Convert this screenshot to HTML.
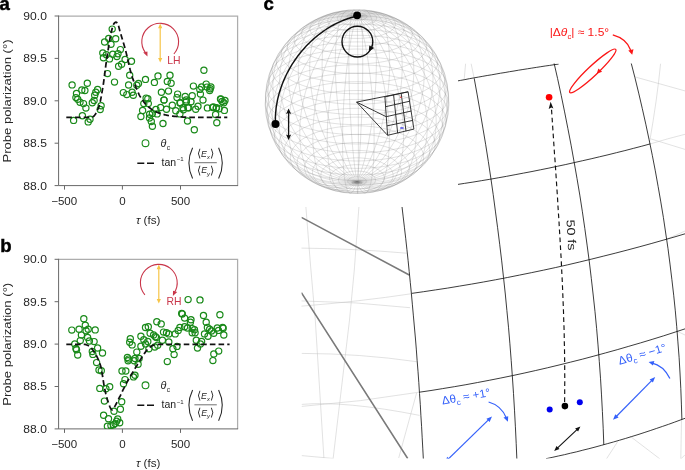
<!DOCTYPE html>
<html lang="en"><head><meta charset="utf-8"><title>Figure</title>
<style>html,body{margin:0;padding:0;background:#fff}body{width:685px;height:470px;overflow:hidden}svg{display:block}</style>
</head><body>
<svg width="685" height="470" viewBox="0 0 685 470" font-family="'Liberation Sans', sans-serif">
<defs>
<clipPath id="inset"><path d="M458,63.5H685V458.5H301.5V207H458Z"/></clipPath>
<clipPath id="pa"><rect x="58.6" y="16" width="179" height="169.6"/></clipPath>
<clipPath id="pb"><rect x="58.6" y="259.3" width="179" height="169.6"/></clipPath>
</defs>
<rect width="685" height="470" fill="#fff"/>
<path d="M58.6,16.0H237.6V185.6" fill="none" stroke="#adadad" stroke-width="1.25"/>
<path d="M58.6,15.5V185.6H238.1" fill="none" stroke="#686868" stroke-width="1"/>
<path d="M54.6,16.0H58.6" stroke="#686868" stroke-width="1"/>
<text transform="translate(46.9,19.9) scale(1.1,1)" font-size="11" text-anchor="end" fill="#262626">90.0</text>
<path d="M54.6,58.4H58.6" stroke="#686868" stroke-width="1"/>
<text transform="translate(46.9,62.4) scale(1.1,1)" font-size="11" text-anchor="end" fill="#262626">89.5</text>
<path d="M54.6,100.8H58.6" stroke="#686868" stroke-width="1"/>
<text transform="translate(46.9,104.8) scale(1.1,1)" font-size="11" text-anchor="end" fill="#262626">89.0</text>
<path d="M54.6,143.2H58.6" stroke="#686868" stroke-width="1"/>
<text transform="translate(46.9,147.1) scale(1.1,1)" font-size="11" text-anchor="end" fill="#262626">88.5</text>
<path d="M54.6,185.6H58.6" stroke="#686868" stroke-width="1"/>
<text transform="translate(46.9,189.5) scale(1.1,1)" font-size="11" text-anchor="end" fill="#262626">88.0</text>
<path d="M64.5,185.6V189.6" stroke="#686868" stroke-width="1"/>
<text transform="translate(64.2,204.6) scale(1.07,1)" font-size="10.8" text-anchor="middle" fill="#262626">−500</text>
<path d="M122.4,185.6V189.6" stroke="#686868" stroke-width="1"/>
<text transform="translate(122.4,204.6) scale(1.07,1)" font-size="10.8" text-anchor="middle" fill="#262626">0</text>
<path d="M180.5,185.6V189.6" stroke="#686868" stroke-width="1"/>
<text transform="translate(180.5,204.6) scale(1.07,1)" font-size="10.8" text-anchor="middle" fill="#262626">500</text>
<text x="148.2" y="223.7" font-size="11.6" text-anchor="middle" fill="#262626"><tspan font-style="italic">τ</tspan> (fs)</text>
<text transform="translate(10.9,101.0) rotate(-90) scale(1.17,1)" font-size="11.2" text-anchor="middle" fill="#262626">Probe polarization (°)</text>
<text x="-0.4" y="9.8" font-size="18.6" font-weight="bold" fill="#000" stroke="#000" stroke-width="0.45">a</text>
<g fill="none" stroke="#1a8a1a" stroke-width="1.2" clip-path="url(#pa)">
<circle cx="112.2" cy="29.1" r="3.1"/>
<circle cx="108.7" cy="38.5" r="3.1"/>
<circle cx="115.7" cy="38.8" r="3.1"/>
<circle cx="104.6" cy="42.0" r="3.1"/>
<circle cx="111.0" cy="44.3" r="3.1"/>
<circle cx="120.4" cy="49.6" r="3.1"/>
<circle cx="102.8" cy="52.9" r="3.1"/>
<circle cx="106.4" cy="54.8" r="3.1"/>
<circle cx="112.8" cy="54.3" r="3.1"/>
<circle cx="118.0" cy="53.7" r="3.1"/>
<circle cx="116.9" cy="56.6" r="3.1"/>
<circle cx="103.4" cy="57.8" r="3.1"/>
<circle cx="109.5" cy="58.9" r="3.1"/>
<circle cx="125.1" cy="59.5" r="3.1"/>
<circle cx="131.5" cy="61.3" r="3.1"/>
<circle cx="121.6" cy="64.2" r="3.1"/>
<circle cx="118.6" cy="66.2" r="3.1"/>
<circle cx="72.1" cy="84.9" r="3.1"/>
<circle cx="87.3" cy="83.3" r="3.1"/>
<circle cx="107.5" cy="73.6" r="3.1"/>
<circle cx="114.5" cy="82.1" r="3.1"/>
<circle cx="129.7" cy="75.3" r="3.1"/>
<circle cx="128.6" cy="85.0" r="3.1"/>
<circle cx="138.5" cy="83.5" r="3.1"/>
<circle cx="136.8" cy="85.3" r="3.1"/>
<circle cx="145.5" cy="79.4" r="3.1"/>
<circle cx="81.8" cy="90.0" r="3.1"/>
<circle cx="84.9" cy="90.5" r="3.1"/>
<circle cx="76.5" cy="93.5" r="3.1"/>
<circle cx="97.6" cy="89.4" r="3.1"/>
<circle cx="95.8" cy="92.3" r="3.1"/>
<circle cx="94.7" cy="95.2" r="3.1"/>
<circle cx="75.9" cy="97.6" r="3.1"/>
<circle cx="77.7" cy="99.3" r="3.1"/>
<circle cx="80.0" cy="102.2" r="3.1"/>
<circle cx="83.5" cy="103.6" r="3.1"/>
<circle cx="92.3" cy="102.8" r="3.1"/>
<circle cx="94.1" cy="100.5" r="3.1"/>
<circle cx="85.9" cy="108.1" r="3.1"/>
<circle cx="101.1" cy="105.7" r="3.1"/>
<circle cx="100.2" cy="109.5" r="3.1"/>
<circle cx="82.4" cy="115.7" r="3.1"/>
<circle cx="73.6" cy="120.4" r="3.1"/>
<circle cx="90.0" cy="119.2" r="3.1"/>
<circle cx="88.2" cy="121.9" r="3.1"/>
<circle cx="123.3" cy="92.6" r="3.1"/>
<circle cx="126.8" cy="94.6" r="3.1"/>
<circle cx="132.1" cy="92.3" r="3.1"/>
<circle cx="133.3" cy="95.2" r="3.1"/>
<circle cx="143.8" cy="103.6" r="3.1"/>
<circle cx="142.6" cy="110.4" r="3.1"/>
<circle cx="140.9" cy="116.5" r="3.1"/>
<circle cx="146.1" cy="98.1" r="3.1"/>
<circle cx="154.4" cy="82.4" r="3.1"/>
<circle cx="158.0" cy="75.9" r="3.1"/>
<circle cx="170.0" cy="75.3" r="3.1"/>
<circle cx="167.3" cy="81.4" r="3.1"/>
<circle cx="171.1" cy="83.3" r="3.1"/>
<circle cx="161.4" cy="92.3" r="3.1"/>
<circle cx="168.5" cy="91.1" r="3.1"/>
<circle cx="164.1" cy="100.1" r="3.1"/>
<circle cx="147.8" cy="98.7" r="3.1"/>
<circle cx="148.3" cy="103.6" r="3.1"/>
<circle cx="160.6" cy="107.5" r="3.1"/>
<circle cx="166.5" cy="109.3" r="3.1"/>
<circle cx="157.1" cy="113.9" r="3.1"/>
<circle cx="152.4" cy="113.4" r="3.1"/>
<circle cx="149.5" cy="118.0" r="3.1"/>
<circle cx="151.3" cy="121.5" r="3.1"/>
<circle cx="152.4" cy="126.2" r="3.1"/>
<circle cx="163.0" cy="123.5" r="3.1"/>
<circle cx="177.6" cy="94.1" r="3.1"/>
<circle cx="177.0" cy="97.6" r="3.1"/>
<circle cx="185.2" cy="96.4" r="3.1"/>
<circle cx="192.2" cy="95.8" r="3.1"/>
<circle cx="193.4" cy="86.1" r="3.1"/>
<circle cx="172.3" cy="105.2" r="3.1"/>
<circle cx="175.8" cy="110.7" r="3.1"/>
<circle cx="180.5" cy="102.8" r="3.1"/>
<circle cx="183.4" cy="109.8" r="3.1"/>
<circle cx="186.4" cy="101.7" r="3.1"/>
<circle cx="191.0" cy="101.7" r="3.1"/>
<circle cx="188.7" cy="107.7" r="3.1"/>
<circle cx="179.9" cy="113.9" r="3.1"/>
<circle cx="187.5" cy="121.0" r="3.1"/>
<circle cx="195.7" cy="109.3" r="3.1"/>
<circle cx="198.0" cy="106.3" r="3.1"/>
<circle cx="200.4" cy="94.1" r="3.1"/>
<circle cx="199.8" cy="89.4" r="3.1"/>
<circle cx="201.6" cy="87.0" r="3.1"/>
<circle cx="203.0" cy="100.1" r="3.1"/>
<circle cx="206.2" cy="84.1" r="3.1"/>
<circle cx="210.9" cy="87.0" r="3.1"/>
<circle cx="209.7" cy="90.5" r="3.1"/>
<circle cx="207.4" cy="107.9" r="3.1"/>
<circle cx="212.7" cy="107.5" r="3.1"/>
<circle cx="216.2" cy="108.1" r="3.1"/>
<circle cx="219.1" cy="108.7" r="3.1"/>
<circle cx="215.6" cy="114.5" r="3.1"/>
<circle cx="216.8" cy="122.7" r="3.1"/>
<circle cx="220.9" cy="99.3" r="3.1"/>
<circle cx="223.8" cy="102.8" r="3.1"/>
<circle cx="225.0" cy="100.5" r="3.1"/>
<circle cx="224.4" cy="110.4" r="3.1"/>
<circle cx="203.9" cy="70.2" r="3.1"/>
<circle cx="194.3" cy="129.7" r="3.1"/>
<circle cx="179.9" cy="103.0" r="3.1"/>
<circle cx="183.0" cy="107.8" r="3.1"/>
<circle cx="186.2" cy="99.9" r="3.1"/>
<circle cx="187.8" cy="107.8" r="3.1"/>
<circle cx="207.0" cy="87.1" r="3.1"/>
<circle cx="210.2" cy="88.7" r="3.1"/>
<circle cx="220.5" cy="99.0" r="3.1"/>
<circle cx="222.1" cy="101.5" r="3.1"/>
<circle cx="213.4" cy="107.0" r="3.1"/>
<circle cx="216.5" cy="107.8" r="3.1"/>
<circle cx="163.9" cy="99.9" r="3.1"/>
<circle cx="149.6" cy="114.2" r="3.1"/>
<circle cx="155.9" cy="109.4" r="3.1"/>
</g>
<path d="M66.3,117.4 L67.1,117.4 L67.9,117.4 L68.7,117.4 L69.5,117.4 L70.3,117.4 L71.2,117.4 L72.0,117.4 L72.8,117.4 L73.6,117.4 L74.4,117.4 L75.2,117.4 L76.0,117.4 L76.8,117.4 L77.6,117.4 L78.4,117.4 L79.2,117.4 L80.1,117.4 L80.9,117.4 L81.7,117.4 L82.5,117.4 L83.3,117.4 L84.1,117.4 L84.9,117.4 L85.7,117.4 L86.5,117.4 L87.3,117.4 L88.1,117.4 L89.0,117.4 L89.8,117.3 L90.6,117.2 L91.4,117.0 L92.2,116.8 L93.0,116.6 L93.8,116.2 L94.6,115.3 L95.4,114.2 L96.2,112.7 L97.0,111.0 L97.9,109.1 L98.7,107.1 L99.5,104.7 L100.3,101.4 L101.1,97.4 L101.9,92.9 L102.7,88.2 L103.5,83.2 L104.3,77.3 L105.1,71.0 L105.9,64.7 L106.8,58.9 L107.6,53.5 L108.4,48.2 L109.2,43.1 L110.0,38.4 L110.8,34.4 L111.6,30.8 L112.4,27.5 L113.2,25.0 L114.0,23.6 L114.8,22.6 L115.7,22.1 L116.5,22.3 L117.3,23.1 L118.1,24.1 L118.9,27.2 L119.7,30.3 L120.5,33.0 L121.3,35.7 L122.1,38.4 L122.9,41.1 L123.7,43.8 L124.6,46.7 L125.4,49.7 L126.2,52.9 L127.0,56.3 L127.8,59.8 L128.6,63.2 L129.4,66.6 L130.2,69.9 L131.0,72.9 L131.8,75.7 L132.6,78.1 L133.5,80.6 L134.3,82.9 L135.1,85.1 L135.9,87.3 L136.7,89.3 L137.5,91.2 L138.3,93.0 L139.1,94.6 L139.9,96.1 L140.7,97.4 L141.5,98.7 L142.4,99.9 L143.2,101.0 L144.0,102.1 L144.8,103.1 L145.6,104.0 L146.4,104.9 L147.2,105.7 L148.0,106.4 L148.8,107.1 L149.6,107.8 L150.4,108.4 L151.2,109.0 L152.1,109.6 L152.9,110.1 L153.7,110.6 L154.5,111.1 L155.3,111.5 L156.1,111.8 L156.9,112.2 L157.7,112.5 L158.5,112.9 L159.3,113.2 L160.1,113.4 L161.0,113.7 L161.8,114.0 L162.6,114.2 L163.4,114.4 L164.2,114.6 L165.0,114.8 L165.8,115.0 L166.6,115.1 L167.4,115.3 L168.2,115.5 L169.0,115.6 L169.9,115.7 L170.7,115.9 L171.5,116.0 L172.3,116.1 L173.1,116.2 L173.9,116.3 L174.7,116.4 L175.5,116.4 L176.3,116.5 L177.1,116.6 L177.9,116.7 L178.8,116.7 L179.6,116.8 L180.4,116.8 L181.2,116.9 L182.0,116.9 L182.8,117.0 L183.6,117.0 L184.4,117.1 L185.2,117.1 L186.0,117.1 L186.8,117.2 L187.7,117.2 L188.5,117.2 L189.3,117.2 L190.1,117.3 L190.9,117.3 L191.7,117.3 L192.5,117.3 L193.3,117.3 L194.1,117.3 L194.9,117.4 L195.7,117.4 L196.6,117.4 L197.4,117.4 L198.2,117.4 L199.0,117.4 L199.8,117.4 L200.6,117.4 L201.4,117.4 L202.2,117.4 L203.0,117.4 L203.8,117.4 L204.6,117.4 L205.5,117.4 L206.3,117.4 L207.1,117.4 L207.9,117.4 L208.7,117.4 L209.5,117.4 L210.3,117.4 L211.1,117.4 L211.9,117.4 L212.7,117.4 L213.5,117.4 L214.4,117.4 L215.2,117.4 L216.0,117.4 L216.8,117.4 L217.6,117.4 L218.4,117.4 L219.2,117.4 L220.0,117.4 L220.8,117.4 L221.6,117.4 L222.4,117.4 L223.3,117.4 L224.1,117.4 L224.9,117.4 L225.7,117.4 L226.5,117.4 L227.3,117.4" fill="none" stroke="#111" stroke-width="1.75" stroke-dasharray="5.6 3.1"/>
<circle cx="145.5" cy="143.2" r="3.4" fill="none" stroke="#1a8a1a" stroke-width="1.1"/>
<text x="160.6" y="146.6" font-size="10.8" fill="#222"><tspan font-style="italic">θ</tspan><tspan font-size="6.6" dy="3.4" dx="0.4">c</tspan></text>
<path d="M137.3,163.2H154" stroke="#111" stroke-width="1.6" stroke-dasharray="7 2.7"/>
<text transform="translate(161.5,166.0) scale(1.05,1)" font-size="10" fill="#222">tan<tspan font-size="5.8" dy="-4.6" dx="0.6">−1</tspan></text>
<path d="M192.6,147.8Q185.2,163.2 192.6,178.6" fill="none" stroke="#262626" stroke-width="1.05"/>
<path d="M218.6,147.8Q226,163.2 218.6,178.6" fill="none" stroke="#262626" stroke-width="1.05"/>
<path d="M194.4,162.7H216.8" stroke="#333" stroke-width="0.7"/>
<text x="205.4" y="156.6" font-size="8.8" text-anchor="middle" fill="#262626"><tspan font-size="10.6" dy="0.6">⟨</tspan><tspan font-style="italic" dy="-0.6">E</tspan><tspan font-size="5.8" dy="2.2" font-style="italic">x</tspan><tspan font-size="10.6" dy="-1.6">⟩</tspan></text>
<text x="205.6" y="173.4" font-size="8.8" text-anchor="middle" fill="#262626"><tspan font-size="10.6" dy="0.6">⟨</tspan><tspan font-style="italic" dy="-0.6">E</tspan><tspan font-size="5.8" dy="2.2" font-style="italic">y</tspan><tspan font-size="10.6" dy="-1.6">⟩</tspan></text>
<path d="M160.2,25.8V59.6" stroke="#f7c548" stroke-width="1.2"/>
<path d="M160.2,23.6l-2.1,4.6h4.2z M160.2,62.6l-2.1,-4.6h4.2z" fill="#f7c548"/>
<path d="M173.9,54.0A18.4,18.4 0 1 0 145.5,52.8" fill="none" stroke="#c9364a" stroke-width="1.1"/>
<path d="M147.5,56.6l-4.3,-4.0 l4.2,-1.2z" fill="#c9364a"/>
<text x="167.2" y="63.5" font-size="10.4" fill="#c9364a">LH</text>
<path d="M58.6,259.3H237.6V428.9" fill="none" stroke="#adadad" stroke-width="1.25"/>
<path d="M58.6,258.8V428.9H238.1" fill="none" stroke="#686868" stroke-width="1"/>
<path d="M54.6,259.3H58.6" stroke="#686868" stroke-width="1"/>
<text transform="translate(46.9,263.2) scale(1.1,1)" font-size="11" text-anchor="end" fill="#262626">90.0</text>
<path d="M54.6,301.7H58.6" stroke="#686868" stroke-width="1"/>
<text transform="translate(46.9,305.6) scale(1.1,1)" font-size="11" text-anchor="end" fill="#262626">89.5</text>
<path d="M54.6,344.1H58.6" stroke="#686868" stroke-width="1"/>
<text transform="translate(46.9,348.1) scale(1.1,1)" font-size="11" text-anchor="end" fill="#262626">89.0</text>
<path d="M54.6,386.5H58.6" stroke="#686868" stroke-width="1"/>
<text transform="translate(46.9,390.4) scale(1.1,1)" font-size="11" text-anchor="end" fill="#262626">88.5</text>
<path d="M54.6,428.9H58.6" stroke="#686868" stroke-width="1"/>
<text transform="translate(46.9,432.8) scale(1.1,1)" font-size="11" text-anchor="end" fill="#262626">88.0</text>
<path d="M64.5,428.9V432.9" stroke="#686868" stroke-width="1"/>
<text transform="translate(64.2,447.9) scale(1.07,1)" font-size="10.8" text-anchor="middle" fill="#262626">−500</text>
<path d="M122.4,428.9V432.9" stroke="#686868" stroke-width="1"/>
<text transform="translate(122.4,447.9) scale(1.07,1)" font-size="10.8" text-anchor="middle" fill="#262626">0</text>
<path d="M180.5,428.9V432.9" stroke="#686868" stroke-width="1"/>
<text transform="translate(180.5,447.9) scale(1.07,1)" font-size="10.8" text-anchor="middle" fill="#262626">500</text>
<text x="148.2" y="467.0" font-size="11.6" text-anchor="middle" fill="#262626"><tspan font-style="italic">τ</tspan> (fs)</text>
<text transform="translate(10.9,344.3) rotate(-90) scale(1.17,1)" font-size="11.2" text-anchor="middle" fill="#262626">Probe polarization (°)</text>
<text x="0.2" y="252.3" font-size="18.6" font-weight="bold" fill="#000" stroke="#000" stroke-width="0.45">b</text>
<g fill="none" stroke="#1a8a1a" stroke-width="1.2" clip-path="url(#pb)">
<circle cx="83.8" cy="318.8" r="3.1"/>
<circle cx="71.8" cy="330.1" r="3.1"/>
<circle cx="79.1" cy="329.3" r="3.1"/>
<circle cx="85.3" cy="325.2" r="3.1"/>
<circle cx="88.2" cy="329.3" r="3.1"/>
<circle cx="86.1" cy="330.8" r="3.1"/>
<circle cx="95.2" cy="329.9" r="3.1"/>
<circle cx="81.4" cy="335.1" r="3.1"/>
<circle cx="87.6" cy="337.5" r="3.1"/>
<circle cx="80.3" cy="340.6" r="3.1"/>
<circle cx="89.4" cy="341.0" r="3.1"/>
<circle cx="94.1" cy="341.6" r="3.1"/>
<circle cx="74.8" cy="343.9" r="3.1"/>
<circle cx="75.9" cy="348.4" r="3.1"/>
<circle cx="76.5" cy="349.8" r="3.1"/>
<circle cx="77.7" cy="355.0" r="3.1"/>
<circle cx="97.6" cy="348.0" r="3.1"/>
<circle cx="92.3" cy="351.5" r="3.1"/>
<circle cx="92.9" cy="354.4" r="3.1"/>
<circle cx="102.5" cy="353.0" r="3.1"/>
<circle cx="96.6" cy="362.6" r="3.1"/>
<circle cx="130.3" cy="338.7" r="3.1"/>
<circle cx="129.7" cy="342.2" r="3.1"/>
<circle cx="132.1" cy="344.9" r="3.1"/>
<circle cx="140.9" cy="336.3" r="3.1"/>
<circle cx="143.8" cy="339.8" r="3.1"/>
<circle cx="140.9" cy="346.3" r="3.1"/>
<circle cx="145.5" cy="343.9" r="3.1"/>
<circle cx="136.8" cy="352.1" r="3.1"/>
<circle cx="127.4" cy="357.4" r="3.1"/>
<circle cx="128.6" cy="359.1" r="3.1"/>
<circle cx="135.0" cy="358.5" r="3.1"/>
<circle cx="139.1" cy="358.5" r="3.1"/>
<circle cx="145.5" cy="327.5" r="3.1"/>
<circle cx="99.0" cy="370.0" r="3.1"/>
<circle cx="101.3" cy="370.7" r="3.1"/>
<circle cx="99.8" cy="388.4" r="3.1"/>
<circle cx="105.9" cy="388.8" r="3.1"/>
<circle cx="109.7" cy="386.8" r="3.1"/>
<circle cx="104.4" cy="401.1" r="3.1"/>
<circle cx="122.0" cy="371.0" r="3.1"/>
<circle cx="125.8" cy="371.0" r="3.1"/>
<circle cx="125.0" cy="379.6" r="3.1"/>
<circle cx="123.5" cy="383.8" r="3.1"/>
<circle cx="133.5" cy="376.9" r="3.1"/>
<circle cx="135.0" cy="375.3" r="3.1"/>
<circle cx="138.1" cy="364.3" r="3.1"/>
<circle cx="128.1" cy="360.8" r="3.1"/>
<circle cx="134.2" cy="360.8" r="3.1"/>
<circle cx="121.7" cy="401.7" r="3.1"/>
<circle cx="120.4" cy="409.3" r="3.1"/>
<circle cx="114.0" cy="411.3" r="3.1"/>
<circle cx="103.6" cy="415.2" r="3.1"/>
<circle cx="108.5" cy="418.7" r="3.1"/>
<circle cx="117.7" cy="419.0" r="3.1"/>
<circle cx="116.6" cy="421.3" r="3.1"/>
<circle cx="119.7" cy="422.8" r="3.1"/>
<circle cx="107.4" cy="426.2" r="3.1"/>
<circle cx="110.9" cy="425.6" r="3.1"/>
<circle cx="113.5" cy="424.7" r="3.1"/>
<circle cx="115.1" cy="423.6" r="3.1"/>
<circle cx="188.1" cy="299.6" r="3.1"/>
<circle cx="200.0" cy="299.9" r="3.1"/>
<circle cx="181.7" cy="313.4" r="3.1"/>
<circle cx="182.3" cy="314.0" r="3.1"/>
<circle cx="184.6" cy="318.1" r="3.1"/>
<circle cx="191.0" cy="319.8" r="3.1"/>
<circle cx="190.4" cy="322.2" r="3.1"/>
<circle cx="203.5" cy="315.5" r="3.1"/>
<circle cx="219.9" cy="314.8" r="3.1"/>
<circle cx="206.2" cy="322.2" r="3.1"/>
<circle cx="156.8" cy="321.8" r="3.1"/>
<circle cx="161.2" cy="323.9" r="3.1"/>
<circle cx="148.3" cy="326.8" r="3.1"/>
<circle cx="179.9" cy="327.4" r="3.1"/>
<circle cx="184.6" cy="326.8" r="3.1"/>
<circle cx="187.5" cy="328.0" r="3.1"/>
<circle cx="178.2" cy="330.4" r="3.1"/>
<circle cx="192.2" cy="328.6" r="3.1"/>
<circle cx="194.5" cy="329.8" r="3.1"/>
<circle cx="195.1" cy="332.7" r="3.1"/>
<circle cx="192.2" cy="332.7" r="3.1"/>
<circle cx="163.5" cy="332.1" r="3.1"/>
<circle cx="166.5" cy="332.7" r="3.1"/>
<circle cx="168.8" cy="333.9" r="3.1"/>
<circle cx="175.2" cy="333.9" r="3.1"/>
<circle cx="150.1" cy="333.3" r="3.1"/>
<circle cx="153.6" cy="335.0" r="3.1"/>
<circle cx="155.4" cy="336.8" r="3.1"/>
<circle cx="147.8" cy="341.5" r="3.1"/>
<circle cx="162.4" cy="340.3" r="3.1"/>
<circle cx="168.8" cy="342.0" r="3.1"/>
<circle cx="196.3" cy="340.3" r="3.1"/>
<circle cx="201.6" cy="341.5" r="3.1"/>
<circle cx="204.5" cy="333.9" r="3.1"/>
<circle cx="207.4" cy="327.4" r="3.1"/>
<circle cx="209.7" cy="329.2" r="3.1"/>
<circle cx="211.5" cy="330.9" r="3.1"/>
<circle cx="208.0" cy="336.2" r="3.1"/>
<circle cx="213.8" cy="333.3" r="3.1"/>
<circle cx="217.3" cy="328.0" r="3.1"/>
<circle cx="218.5" cy="330.4" r="3.1"/>
<circle cx="222.6" cy="327.4" r="3.1"/>
<circle cx="223.8" cy="335.0" r="3.1"/>
<circle cx="223.2" cy="328.2" r="3.1"/>
<circle cx="167.3" cy="361.6" r="3.1"/>
<circle cx="174.1" cy="354.6" r="3.1"/>
<circle cx="172.9" cy="348.7" r="3.1"/>
<circle cx="177.0" cy="346.4" r="3.1"/>
<circle cx="197.5" cy="348.1" r="3.1"/>
<circle cx="200.4" cy="344.0" r="3.1"/>
<circle cx="212.9" cy="360.6" r="3.1"/>
<circle cx="213.8" cy="354.0" r="3.1"/>
<circle cx="218.7" cy="351.1" r="3.1"/>
<circle cx="148.9" cy="348.7" r="3.1"/>
<circle cx="154.8" cy="347.0" r="3.1"/>
<circle cx="157.7" cy="345.2" r="3.1"/>
<circle cx="156.5" cy="337.6" r="3.1"/>
</g>
<path d="M66.3,344.3 L67.1,344.3 L67.9,344.3 L68.8,344.3 L69.6,344.3 L70.4,344.3 L71.2,344.3 L72.0,344.3 L72.9,344.3 L73.7,344.3 L74.5,344.3 L75.3,344.3 L76.1,344.3 L77.0,344.3 L77.8,344.3 L78.6,344.3 L79.4,344.3 L80.3,344.3 L81.1,344.3 L81.9,344.3 L82.7,344.3 L83.5,344.3 L84.4,344.3 L85.2,344.4 L86.0,344.7 L86.8,345.0 L87.6,345.3 L88.5,345.7 L89.3,346.3 L90.1,347.0 L90.9,347.8 L91.7,348.7 L92.6,349.7 L93.4,350.7 L94.2,352.0 L95.0,353.3 L95.8,354.7 L96.7,356.2 L97.5,357.8 L98.3,359.6 L99.1,361.5 L99.9,363.8 L100.8,366.4 L101.6,370.3 L102.4,375.0 L103.2,380.2 L104.0,385.3 L104.9,389.6 L105.7,393.2 L106.5,396.4 L107.3,399.3 L108.2,402.0 L109.0,404.4 L109.8,406.6 L110.6,408.2 L111.4,409.4 L112.3,409.7 L113.1,409.0 L113.9,407.9 L114.7,406.6 L115.5,405.1 L116.4,403.5 L117.2,401.8 L118.0,400.3 L118.8,398.6 L119.6,397.0 L120.5,395.3 L121.3,393.6 L122.1,391.9 L122.9,390.2 L123.7,388.6 L124.6,386.9 L125.4,385.3 L126.2,383.7 L127.0,382.2 L127.8,380.7 L128.7,379.3 L129.5,377.8 L130.3,376.4 L131.1,375.0 L131.9,373.6 L132.8,372.2 L133.6,370.9 L134.4,369.5 L135.2,368.1 L136.1,366.8 L136.9,365.5 L137.7,364.1 L138.5,362.8 L139.3,361.4 L140.2,360.0 L141.0,358.7 L141.8,357.3 L142.6,356.0 L143.4,354.8 L144.3,353.6 L145.1,352.5 L145.9,351.4 L146.7,350.4 L147.5,349.4 L148.4,348.6 L149.2,347.9 L150.0,347.2 L150.8,346.6 L151.6,346.0 L152.5,345.6 L153.3,345.2 L154.1,345.0 L154.9,344.8 L155.7,344.7 L156.6,344.6 L157.4,344.5 L158.2,344.4 L159.0,344.3 L159.8,344.3 L160.7,344.3 L161.5,344.3 L162.3,344.3 L163.1,344.3 L164.0,344.3 L164.8,344.3 L165.6,344.3 L166.4,344.3 L167.2,344.3 L168.1,344.3 L168.9,344.3 L169.7,344.3 L170.5,344.3 L171.3,344.3 L172.2,344.3 L173.0,344.3 L173.8,344.3 L174.6,344.3 L175.4,344.3 L176.3,344.3 L177.1,344.3 L177.9,344.3 L178.7,344.3 L179.5,344.3 L180.4,344.3 L181.2,344.3 L182.0,344.3 L182.8,344.3 L183.6,344.3 L184.5,344.3 L185.3,344.3 L186.1,344.3 L186.9,344.3 L187.7,344.3 L188.6,344.3 L189.4,344.3 L190.2,344.3 L191.0,344.3 L191.9,344.3 L192.7,344.3 L193.5,344.3 L194.3,344.3 L195.1,344.3 L196.0,344.3 L196.8,344.3 L197.6,344.3 L198.4,344.3 L199.2,344.3 L200.1,344.3 L200.9,344.3 L201.7,344.3 L202.5,344.3 L203.3,344.3 L204.2,344.3 L205.0,344.3 L205.8,344.3 L206.6,344.3 L207.4,344.3 L208.3,344.3 L209.1,344.3 L209.9,344.3 L210.7,344.3 L211.5,344.3 L212.4,344.3 L213.2,344.3 L214.0,344.3 L214.8,344.3 L215.6,344.3 L216.5,344.3 L217.3,344.3 L218.1,344.3 L218.9,344.3 L219.8,344.3 L220.6,344.3 L221.4,344.3 L222.2,344.3 L223.0,344.3 L223.9,344.3 L224.7,344.3 L225.5,344.3 L226.3,344.3 L227.1,344.3 L228.0,344.3 L228.8,344.3 L229.6,344.3" fill="none" stroke="#111" stroke-width="1.75" stroke-dasharray="5.6 3.1"/>
<circle cx="145.5" cy="385.3" r="3.4" fill="none" stroke="#1a8a1a" stroke-width="1.1"/>
<text x="160.6" y="388.7" font-size="10.8" fill="#222"><tspan font-style="italic">θ</tspan><tspan font-size="6.6" dy="3.4" dx="0.4">c</tspan></text>
<path d="M137.3,405.3H154" stroke="#111" stroke-width="1.6" stroke-dasharray="7 2.7"/>
<text transform="translate(161.5,408.1) scale(1.05,1)" font-size="10" fill="#222">tan<tspan font-size="5.8" dy="-4.6" dx="0.6">−1</tspan></text>
<path d="M192.6,389.9Q185.2,405.3 192.6,420.7" fill="none" stroke="#262626" stroke-width="1.05"/>
<path d="M218.6,389.9Q226,405.3 218.6,420.7" fill="none" stroke="#262626" stroke-width="1.05"/>
<path d="M194.4,404.8H216.8" stroke="#333" stroke-width="0.7"/>
<text x="205.4" y="398.7" font-size="8.8" text-anchor="middle" fill="#262626"><tspan font-size="10.6" dy="0.6">⟨</tspan><tspan font-style="italic" dy="-0.6">E</tspan><tspan font-size="5.8" dy="2.2" font-style="italic">x</tspan><tspan font-size="10.6" dy="-1.6">⟩</tspan></text>
<text x="205.6" y="415.5" font-size="8.8" text-anchor="middle" fill="#262626"><tspan font-size="10.6" dy="0.6">⟨</tspan><tspan font-style="italic" dy="-0.6">E</tspan><tspan font-size="5.8" dy="2.2" font-style="italic">y</tspan><tspan font-size="10.6" dy="-1.6">⟩</tspan></text>
<path d="M158.8,266.8V300.6" stroke="#f7c548" stroke-width="1.2"/>
<path d="M158.8,264.6l-2.1,4.6h4.2z M158.8,303.6l-2.1,-4.6h4.2z" fill="#f7c548"/>
<path d="M144.9,294.8A18.4,18.4 0 1 1 174.1,293.0" fill="none" stroke="#c9364a" stroke-width="1.1"/>
<path d="M172.9,295.9l4.3,-4.0 l-4.2,-1.2z" fill="#c9364a"/>
<text x="166.4" y="304.5" font-size="10.4" fill="#c9364a">RH</text>
<path d="M357.0,185.8L357.8,185.8L358.6,185.7L359.4,185.6L360.2,185.5L360.9,185.4L361.7,185.2L362.3,184.9L363.0,184.7L363.6,184.4L364.1,184.1L364.6,183.8L365.1,183.5L365.4,183.1L365.7,182.8L366.0,182.4L366.1,182.0L366.2,181.6L366.3,181.2L366.2,180.8L366.1,180.4L365.9,180.0L365.7,179.6L365.4,179.3L365.0,178.9L364.6,178.6L364.1,178.3L363.5,178.0L362.9,177.7L362.3,177.5L361.6,177.3L360.9,177.1L360.1,177.0L359.4,176.8L358.6,176.8L357.8,176.7L357.0,176.7L356.2,176.7L355.4,176.8L354.6,176.8L353.9,177.0L353.1,177.1L352.4,177.3L351.7,177.5L351.1,177.7L350.5,178.0L349.9,178.3L349.4,178.6L349.0,178.9L348.6,179.3L348.3,179.6L348.1,180.0L347.9,180.4L347.8,180.8L347.7,181.2L347.8,181.6L347.9,182.0L348.0,182.4L348.3,182.8L348.6,183.1L348.9,183.5L349.4,183.8L349.9,184.1L350.4,184.4L351.0,184.7L351.7,184.9L352.3,185.2L353.1,185.4L353.8,185.5L354.6,185.6L355.4,185.7L356.2,185.8Z M357.0,189.1L358.6,189.1L360.2,189.0L361.8,188.8L363.4,188.5L364.9,188.2L366.3,187.9L367.7,187.4L369.0,186.9L370.2,186.4L371.3,185.8L372.2,185.2L373.1,184.5L373.8,183.8L374.4,183.0L374.9,182.3L375.2,181.5L375.4,180.7L375.4,179.9L375.4,179.1L375.1,178.4L374.8,177.6L374.3,176.9L373.6,176.1L372.9,175.4L372.0,174.8L371.0,174.2L369.9,173.6L368.7,173.1L367.5,172.6L366.1,172.2L364.7,171.8L363.2,171.5L361.7,171.3L360.2,171.2L358.6,171.1L357.0,171.0L355.4,171.1L353.8,171.2L352.3,171.3L350.8,171.5L349.3,171.8L347.9,172.2L346.5,172.6L345.3,173.1L344.1,173.6L343.0,174.2L342.0,174.8L341.1,175.4L340.4,176.1L339.7,176.9L339.2,177.6L338.9,178.4L338.6,179.1L338.6,179.9L338.6,180.7L338.8,181.5L339.1,182.3L339.6,183.0L340.2,183.8L340.9,184.5L341.8,185.2L342.7,185.8L343.8,186.4L345.0,186.9L346.3,187.4L347.7,187.9L349.1,188.2L350.6,188.5L352.2,188.8L353.8,189.0L355.4,189.1Z M357.0,191.5L359.4,191.5L361.9,191.3L364.2,191.0L366.6,190.7L368.8,190.2L371.0,189.6L373.0,189.0L374.9,188.3L376.7,187.4L378.3,186.6L379.8,185.6L381.0,184.6L382.1,183.5L383.0,182.4L383.6,181.3L384.1,180.2L384.4,179.0L384.4,177.8L384.3,176.7L383.9,175.5L383.4,174.4L382.6,173.3L381.7,172.2L380.5,171.2L379.2,170.2L377.7,169.3L376.1,168.5L374.4,167.7L372.5,167.0L370.5,166.4L368.4,165.9L366.2,165.5L364.0,165.1L361.7,164.9L359.3,164.7L357.0,164.7L354.7,164.7L352.3,164.9L350.0,165.1L347.8,165.5L345.6,165.9L343.5,166.4L341.5,167.0L339.6,167.7L337.9,168.5L336.3,169.3L334.8,170.2L333.5,171.2L332.3,172.2L331.4,173.3L330.6,174.4L330.1,175.5L329.7,176.7L329.6,177.8L329.6,179.0L329.9,180.2L330.4,181.3L331.0,182.4L331.9,183.5L333.0,184.6L334.2,185.6L335.7,186.6L337.3,187.4L339.1,188.3L341.0,189.0L343.0,189.6L345.2,190.2L347.4,190.7L349.8,191.0L352.1,191.3L354.6,191.5Z M357.0,193.0L360.2,192.9L363.5,192.7L366.6,192.4L369.7,191.9L372.7,191.2L375.5,190.5L378.2,189.6L380.7,188.7L383.1,187.6L385.2,186.4L387.1,185.2L388.8,183.8L390.2,182.4L391.3,181.0L392.2,179.5L392.8,178.0L393.1,176.4L393.2,174.9L392.9,173.4L392.4,171.9L391.7,170.4L390.7,169.0L389.4,167.6L387.9,166.2L386.2,165.0L384.2,163.8L382.1,162.7L379.8,161.7L377.3,160.8L374.7,160.0L371.9,159.4L369.1,158.8L366.1,158.4L363.1,158.1L360.1,157.9L357.0,157.8L353.9,157.9L350.9,158.1L347.9,158.4L344.9,158.8L342.1,159.4L339.3,160.0L336.7,160.8L334.2,161.7L331.9,162.7L329.8,163.8L327.8,165.0L326.1,166.2L324.6,167.6L323.3,169.0L322.3,170.4L321.6,171.9L321.1,173.4L320.8,174.9L320.9,176.4L321.2,178.0L321.8,179.5L322.7,181.0L323.8,182.4L325.2,183.8L326.9,185.2L328.8,186.4L330.9,187.6L333.3,188.7L335.8,189.6L338.5,190.5L341.3,191.2L344.3,191.9L347.4,192.4L350.5,192.7L353.8,192.9Z M357.0,193.5L361.0,193.4L365.0,193.1L368.9,192.7L372.7,192.1L376.4,191.3L379.9,190.4L383.3,189.3L386.4,188.1L389.3,186.8L391.9,185.3L394.2,183.8L396.2,182.1L397.9,180.4L399.3,178.6L400.4,176.8L401.1,175.0L401.5,173.1L401.5,171.2L401.2,169.3L400.6,167.5L399.6,165.7L398.4,163.9L396.8,162.2L394.9,160.6L392.8,159.1L390.4,157.7L387.7,156.3L384.9,155.1L381.8,154.1L378.6,153.1L375.3,152.3L371.8,151.6L368.2,151.1L364.5,150.7L360.8,150.5L357.0,150.4L353.2,150.5L349.5,150.7L345.8,151.1L342.2,151.6L338.7,152.3L335.4,153.1L332.2,154.1L329.1,155.1L326.3,156.3L323.6,157.7L321.2,159.1L319.1,160.6L317.2,162.2L315.6,163.9L314.4,165.7L313.4,167.5L312.8,169.3L312.5,171.2L312.5,173.1L312.9,175.0L313.6,176.8L314.7,178.6L316.1,180.4L317.8,182.1L319.8,183.8L322.1,185.3L324.7,186.8L327.6,188.1L330.7,189.3L334.1,190.4L337.6,191.3L341.3,192.1L345.1,192.7L349.0,193.1L353.0,193.4Z M357.0,192.9L361.8,192.8L366.5,192.5L371.1,192.0L375.6,191.3L380.0,190.4L384.2,189.3L388.1,188.0L391.8,186.6L395.2,185.0L398.2,183.3L401.0,181.5L403.3,179.6L405.3,177.6L407.0,175.5L408.2,173.3L409.0,171.1L409.4,168.9L409.4,166.7L409.1,164.6L408.3,162.4L407.1,160.3L405.6,158.2L403.7,156.3L401.5,154.4L399.0,152.6L396.2,151.0L393.1,149.4L389.7,148.0L386.1,146.8L382.3,145.7L378.4,144.7L374.3,143.9L370.1,143.3L365.8,142.9L361.4,142.6L357.0,142.5L352.6,142.6L348.2,142.9L343.9,143.3L339.7,143.9L335.6,144.7L331.7,145.7L327.9,146.8L324.3,148.0L320.9,149.4L317.8,151.0L315.0,152.6L312.5,154.4L310.3,156.3L308.4,158.2L306.9,160.3L305.7,162.4L304.9,164.6L304.6,166.7L304.6,168.9L305.0,171.1L305.8,173.3L307.0,175.5L308.7,177.6L310.7,179.6L313.0,181.5L315.8,183.3L318.8,185.0L322.2,186.6L325.9,188.0L329.8,189.3L334.0,190.4L338.4,191.3L342.9,192.0L347.5,192.5L352.2,192.8Z M357.0,191.4L362.5,191.3L367.9,190.9L373.2,190.3L378.4,189.5L383.4,188.5L388.1,187.2L392.6,185.8L396.8,184.2L400.7,182.4L404.2,180.4L407.3,178.3L410.0,176.1L412.3,173.8L414.1,171.5L415.5,169.0L416.4,166.5L416.8,164.1L416.8,161.6L416.4,159.1L415.4,156.7L414.1,154.3L412.4,152.0L410.2,149.8L407.7,147.6L404.8,145.6L401.5,143.8L398.0,142.1L394.2,140.5L390.1,139.1L385.8,137.8L381.3,136.8L376.6,135.9L371.8,135.2L366.9,134.7L362.0,134.4L357.0,134.3L352.0,134.4L347.1,134.7L342.2,135.2L337.4,135.9L332.7,136.8L328.2,137.8L323.9,139.1L319.8,140.5L316.0,142.1L312.5,143.8L309.2,145.6L306.3,147.6L303.8,149.8L301.6,152.0L299.9,154.3L298.6,156.7L297.6,159.1L297.2,161.6L297.2,164.1L297.6,166.5L298.5,169.0L299.9,171.5L301.7,173.8L304.0,176.1L306.7,178.3L309.8,180.4L313.3,182.4L317.2,184.2L321.4,185.8L325.9,187.2L330.6,188.5L335.6,189.5L340.8,190.3L346.1,190.9L351.5,191.3Z M357.0,188.8L363.1,188.7L369.2,188.3L375.1,187.6L380.9,186.7L386.5,185.5L391.8,184.2L396.8,182.6L401.5,180.7L405.8,178.7L409.7,176.6L413.2,174.3L416.2,171.8L418.7,169.3L420.7,166.7L422.2,164.0L423.2,161.2L423.6,158.5L423.6,155.7L423.1,153.0L422.0,150.3L420.5,147.7L418.5,145.2L416.1,142.7L413.3,140.4L410.0,138.2L406.4,136.2L402.5,134.3L398.2,132.6L393.7,131.0L388.9,129.7L383.9,128.5L378.7,127.5L373.4,126.8L368.0,126.3L362.5,125.9L357.0,125.8L351.5,125.9L346.0,126.3L340.6,126.8L335.3,127.5L330.1,128.5L325.1,129.7L320.3,131.0L315.8,132.6L311.5,134.3L307.6,136.2L304.0,138.2L300.7,140.4L297.9,142.7L295.5,145.2L293.5,147.7L292.0,150.3L290.9,153.0L290.4,155.7L290.4,158.5L290.8,161.2L291.8,164.0L293.3,166.7L295.3,169.3L297.8,171.8L300.8,174.3L304.3,176.6L308.2,178.7L312.5,180.7L317.2,182.6L322.2,184.2L327.5,185.5L333.1,186.7L338.9,187.6L344.8,188.3L350.9,188.7Z M357.0,185.2L363.7,185.0L370.3,184.6L376.9,183.9L383.2,182.9L389.3,181.6L395.2,180.1L400.7,178.4L405.8,176.4L410.5,174.2L414.7,171.9L418.5,169.4L421.7,166.7L424.5,163.9L426.6,161.1L428.2,158.2L429.3,155.2L429.8,152.2L429.7,149.3L429.1,146.3L427.9,143.4L426.2,140.6L424.0,137.9L421.4,135.3L418.3,132.8L414.7,130.4L410.8,128.2L406.5,126.2L401.8,124.3L396.9,122.7L391.7,121.2L386.3,120.0L380.6,119.0L374.9,118.2L369.0,117.6L363.0,117.2L357.0,117.1L351.0,117.2L345.0,117.6L339.1,118.2L333.4,119.0L327.7,120.0L322.3,121.2L317.1,122.7L312.2,124.3L307.5,126.2L303.2,128.2L299.3,130.4L295.7,132.8L292.6,135.3L290.0,137.9L287.8,140.6L286.1,143.4L284.9,146.3L284.3,149.3L284.2,152.2L284.7,155.2L285.8,158.2L287.4,161.1L289.5,163.9L292.3,166.7L295.5,169.4L299.3,171.9L303.5,174.2L308.2,176.4L313.3,178.4L318.8,180.1L324.7,181.6L330.8,182.9L337.1,183.9L343.7,184.6L350.3,185.0Z M357.0,180.5L364.2,180.4L371.4,179.9L378.4,179.1L385.3,178.1L391.8,176.7L398.1,175.1L404.0,173.3L409.5,171.2L414.6,168.8L419.1,166.3L423.2,163.6L426.6,160.8L429.5,157.9L431.8,154.8L433.5,151.7L434.6,148.6L435.1,145.4L435.0,142.3L434.3,139.1L433.1,136.1L431.2,133.1L428.9,130.2L426.0,127.4L422.6,124.8L418.8,122.3L414.6,120.0L410.0,117.8L405.0,115.9L399.7,114.1L394.1,112.6L388.3,111.3L382.3,110.2L376.1,109.4L369.8,108.8L363.4,108.4L357.0,108.3L350.6,108.4L344.2,108.8L337.9,109.4L331.7,110.2L325.7,111.3L319.9,112.6L314.3,114.1L309.0,115.9L304.0,117.8L299.4,120.0L295.2,122.3L291.4,124.8L288.0,127.4L285.1,130.2L282.8,133.1L280.9,136.1L279.7,139.1L279.0,142.3L278.9,145.4L279.4,148.6L280.5,151.7L282.2,154.8L284.5,157.9L287.4,160.8L290.8,163.6L294.9,166.3L299.4,168.8L304.5,171.2L310.0,173.3L315.9,175.1L322.2,176.7L328.7,178.1L335.6,179.1L342.6,179.9L349.8,180.4Z M357.0,174.9L364.7,174.8L372.3,174.3L379.7,173.5L387.0,172.3L394.0,170.9L400.7,169.2L406.9,167.3L412.7,165.1L418.1,162.6L422.9,160.0L427.2,157.2L430.8,154.2L433.9,151.1L436.3,147.9L438.1,144.7L439.2,141.4L439.7,138.1L439.6,134.8L438.8,131.5L437.4,128.3L435.5,125.2L433.0,122.2L429.9,119.3L426.3,116.5L422.3,113.9L417.8,111.5L412.9,109.3L407.6,107.3L402.0,105.5L396.2,103.9L390.0,102.5L383.7,101.4L377.2,100.5L370.5,99.9L363.8,99.5L357.0,99.4L350.2,99.5L343.5,99.9L336.8,100.5L330.3,101.4L324.0,102.5L317.8,103.9L312.0,105.5L306.4,107.3L301.1,109.3L296.2,111.5L291.7,113.9L287.7,116.5L284.1,119.3L281.0,122.2L278.5,125.2L276.6,128.3L275.2,131.5L274.4,134.8L274.3,138.1L274.8,141.4L275.9,144.7L277.7,147.9L280.1,151.1L283.2,154.2L286.8,157.2L291.1,160.0L295.9,162.6L301.3,165.1L307.1,167.3L313.3,169.2L320.0,170.9L327.0,172.3L334.3,173.5L341.7,174.3L349.3,174.8Z M357.0,168.4L365.0,168.2L373.0,167.7L380.8,166.9L388.4,165.7L395.7,164.2L402.7,162.5L409.3,160.5L415.4,158.2L420.9,155.6L426.0,152.9L430.4,150.0L434.2,146.9L437.4,143.7L439.9,140.5L441.7,137.1L442.9,133.7L443.4,130.3L443.2,126.9L442.4,123.5L441.0,120.2L438.9,117.0L436.3,113.9L433.1,110.9L429.3,108.1L425.1,105.5L420.4,103.0L415.3,100.7L409.8,98.6L403.9,96.7L397.8,95.1L391.4,93.7L384.8,92.6L378.0,91.7L371.1,91.0L364.1,90.6L357.0,90.5L349.9,90.6L342.9,91.0L336.0,91.7L329.2,92.6L322.6,93.7L316.2,95.1L310.1,96.7L304.2,98.6L298.7,100.7L293.6,103.0L288.9,105.5L284.7,108.1L280.9,110.9L277.7,113.9L275.1,117.0L273.0,120.2L271.6,123.5L270.8,126.9L270.6,130.3L271.1,133.7L272.3,137.1L274.1,140.5L276.6,143.7L279.8,146.9L283.6,150.0L288.0,152.9L293.1,155.6L298.6,158.2L304.7,160.5L311.3,162.5L318.3,164.2L325.6,165.7L333.2,166.9L341.0,167.7L349.0,168.2Z M357.0,161.0L365.3,160.8L373.6,160.3L381.6,159.4L389.5,158.3L397.1,156.8L404.3,155.0L411.0,152.9L417.3,150.5L423.1,148.0L428.3,145.2L432.8,142.2L436.8,139.1L440.0,135.8L442.6,132.5L444.5,129.1L445.7,125.6L446.2,122.1L446.0,118.7L445.1,115.3L443.6,111.9L441.5,108.6L438.7,105.5L435.4,102.5L431.5,99.6L427.2,96.9L422.3,94.4L417.1,92.0L411.4,89.9L405.4,88.0L399.0,86.4L392.4,85.0L385.6,83.8L378.6,82.9L371.5,82.2L364.3,81.8L357.0,81.7L349.7,81.8L342.5,82.2L335.4,82.9L328.4,83.8L321.6,85.0L315.0,86.4L308.6,88.0L302.6,89.9L296.9,92.0L291.7,94.4L286.8,96.9L282.5,99.6L278.6,102.5L275.3,105.5L272.5,108.6L270.4,111.9L268.9,115.3L268.0,118.7L267.8,122.1L268.3,125.6L269.5,129.1L271.4,132.5L274.0,135.8L277.2,139.1L281.2,142.2L285.7,145.2L290.9,148.0L296.7,150.5L303.0,152.9L309.7,155.0L316.9,156.8L324.5,158.3L332.4,159.4L340.4,160.3L348.7,160.8Z M357.0,152.8L365.5,152.6L373.9,152.1L382.2,151.3L390.2,150.1L397.9,148.6L405.3,146.8L412.2,144.7L418.6,142.3L424.5,139.7L429.8,136.9L434.4,133.9L438.4,130.8L441.7,127.5L444.4,124.1L446.3,120.7L447.5,117.2L448.0,113.7L447.8,110.2L446.9,106.8L445.3,103.4L443.2,100.1L440.3,97.0L437.0,93.9L433.0,91.0L428.5,88.3L423.6,85.8L418.2,83.5L412.4,81.3L406.3,79.4L399.8,77.8L393.1,76.4L386.2,75.2L379.0,74.3L371.8,73.6L364.4,73.2L357.0,73.1L349.6,73.2L342.2,73.6L335.0,74.3L327.8,75.2L320.9,76.4L314.2,77.8L307.7,79.4L301.6,81.3L295.8,83.5L290.4,85.8L285.5,88.3L281.0,91.0L277.0,93.9L273.7,97.0L270.8,100.1L268.7,103.4L267.1,106.8L266.2,110.2L266.0,113.7L266.5,117.2L267.7,120.7L269.6,124.1L272.3,127.5L275.6,130.8L279.6,133.9L284.2,136.9L289.5,139.7L295.4,142.3L301.8,144.7L308.7,146.8L316.1,148.6L323.8,150.1L331.8,151.3L340.1,152.1L348.5,152.6Z M357.0,144.0L365.6,143.8L374.1,143.3L382.4,142.4L390.5,141.2L398.3,139.7L405.7,137.9L412.7,135.9L419.2,133.5L425.1,130.9L430.4,128.1L435.1,125.2L439.2,122.0L442.5,118.8L445.2,115.4L447.1,112.0L448.3,108.5L448.8,105.1L448.6,101.6L447.7,98.2L446.1,94.8L443.9,91.6L441.1,88.4L437.6,85.4L433.7,82.5L429.2,79.8L424.2,77.3L418.7,75.0L412.9,72.9L406.7,71.0L400.2,69.4L393.4,68.0L386.4,66.8L379.2,65.9L371.9,65.3L364.5,64.9L357.0,64.7L349.5,64.9L342.1,65.3L334.8,65.9L327.6,66.8L320.6,68.0L313.8,69.4L307.3,71.0L301.1,72.9L295.3,75.0L289.8,77.3L284.8,79.8L280.3,82.5L276.4,85.4L272.9,88.4L270.1,91.6L267.9,94.8L266.3,98.2L265.4,101.6L265.2,105.1L265.7,108.5L266.9,112.0L268.8,115.4L271.5,118.8L274.8,122.0L278.9,125.2L283.6,128.1L288.9,130.9L294.8,133.5L301.3,135.9L308.3,137.9L315.7,139.7L323.5,141.2L331.6,142.4L339.9,143.3L348.4,143.8Z M357.0,134.6L365.6,134.4L374.0,133.9L382.4,133.0L390.4,131.9L398.2,130.4L405.6,128.6L412.6,126.6L419.1,124.3L425.0,121.7L430.3,119.0L435.0,116.1L439.0,113.0L442.4,109.8L445.0,106.5L446.9,103.1L448.1,99.7L448.6,96.3L448.4,92.9L447.5,89.6L446.0,86.3L443.7,83.1L440.9,80.0L437.5,77.0L433.5,74.2L429.0,71.5L424.0,69.1L418.6,66.8L412.8,64.7L406.6,62.9L400.1,61.3L393.3,59.9L386.4,58.7L379.2,57.8L371.9,57.2L364.5,56.8L357.0,56.7L349.5,56.8L342.1,57.2L334.8,57.8L327.6,58.7L320.7,59.9L313.9,61.3L307.4,62.9L301.2,64.7L295.4,66.8L290.0,69.1L285.0,71.5L280.5,74.2L276.5,77.0L273.1,80.0L270.3,83.1L268.0,86.3L266.5,89.6L265.6,92.9L265.4,96.3L265.9,99.7L267.1,103.1L269.0,106.5L271.6,109.8L275.0,113.0L279.0,116.1L283.7,119.0L289.0,121.7L294.9,124.3L301.4,126.6L308.4,128.6L315.8,130.4L323.6,131.9L331.6,133.0L340.0,133.9L348.4,134.4Z M357.0,124.7L365.4,124.5L373.8,124.1L382.0,123.2L390.0,122.1L397.6,120.7L405.0,119.0L411.8,117.0L418.2,114.7L424.0,112.3L429.3,109.6L433.9,106.8L437.9,103.8L441.2,100.7L443.8,97.5L445.7,94.2L446.9,90.9L447.4,87.6L447.2,84.3L446.3,81.0L444.8,77.8L442.6,74.7L439.8,71.7L436.5,68.8L432.5,66.1L428.1,63.5L423.2,61.1L417.9,58.9L412.1,56.9L406.0,55.1L399.6,53.5L392.9,52.2L386.0,51.0L378.9,50.2L371.7,49.5L364.4,49.2L357.0,49.0L349.6,49.2L342.3,49.5L335.1,50.2L328.0,51.0L321.1,52.2L314.4,53.5L308.0,55.1L301.9,56.9L296.1,58.9L290.8,61.1L285.9,63.5L281.5,66.1L277.5,68.8L274.2,71.7L271.4,74.7L269.2,77.8L267.7,81.0L266.8,84.3L266.6,87.6L267.1,90.9L268.3,94.2L270.2,97.5L272.8,100.7L276.1,103.8L280.1,106.8L284.7,109.6L290.0,112.3L295.8,114.7L302.2,117.0L309.0,119.0L316.4,120.7L324.0,122.1L332.0,123.2L340.2,124.1L348.6,124.5Z M357.0,114.5L365.2,114.4L373.4,113.9L381.4,113.1L389.1,112.1L396.6,110.7L403.7,109.0L410.4,107.1L416.6,105.0L422.3,102.6L427.4,100.1L432.0,97.4L435.9,94.5L439.1,91.5L441.6,88.4L443.5,85.3L444.7,82.1L445.2,79.0L445.0,75.8L444.2,72.7L442.7,69.6L440.6,66.6L437.9,63.7L434.6,60.9L430.8,58.3L426.4,55.8L421.7,53.5L416.4,51.4L410.8,49.4L404.9,47.7L398.6,46.2L392.1,44.9L385.3,43.8L378.4,43.0L371.3,42.4L364.2,42.0L357.0,41.9L349.8,42.0L342.7,42.4L335.6,43.0L328.7,43.8L321.9,44.9L315.4,46.2L309.1,47.7L303.2,49.4L297.6,51.4L292.3,53.5L287.6,55.8L283.2,58.3L279.4,60.9L276.1,63.7L273.4,66.6L271.3,69.6L269.8,72.7L269.0,75.8L268.8,79.0L269.3,82.1L270.5,85.3L272.4,88.4L274.9,91.5L278.1,94.5L282.0,97.4L286.6,100.1L291.7,102.6L297.4,105.0L303.6,107.1L310.3,109.0L317.4,110.7L324.9,112.1L332.6,113.1L340.6,113.9L348.8,114.4Z M357.0,104.2L364.9,104.0L372.7,103.6L380.4,102.9L387.9,101.8L395.1,100.5L401.9,99.0L408.4,97.2L414.4,95.2L419.8,92.9L424.8,90.5L429.1,88.0L432.9,85.2L436.0,82.4L438.5,79.5L440.3,76.5L441.5,73.5L442.0,70.5L441.8,67.5L441.0,64.5L439.6,61.6L437.6,58.8L435.0,56.0L431.8,53.4L428.2,50.9L424.0,48.5L419.4,46.3L414.4,44.3L409.0,42.5L403.2,40.8L397.2,39.4L390.9,38.1L384.4,37.1L377.7,36.3L370.9,35.7L363.9,35.4L357.0,35.3L350.1,35.4L343.1,35.7L336.3,36.3L329.6,37.1L323.1,38.1L316.8,39.4L310.8,40.8L305.0,42.5L299.6,44.3L294.6,46.3L290.0,48.5L285.8,50.9L282.2,53.4L279.0,56.0L276.4,58.8L274.4,61.6L273.0,64.5L272.2,67.5L272.0,70.5L272.5,73.5L273.7,76.5L275.5,79.5L278.0,82.4L281.1,85.2L284.9,88.0L289.2,90.5L294.2,92.9L299.6,95.2L305.6,97.2L312.1,99.0L318.9,100.5L326.1,101.8L333.6,102.9L341.3,103.6L349.1,104.0Z M357.0,93.8L364.5,93.7L371.9,93.3L379.2,92.6L386.3,91.6L393.1,90.4L399.6,89.0L405.7,87.3L411.4,85.4L416.6,83.3L421.3,81.1L425.5,78.7L429.1,76.2L432.0,73.5L434.4,70.8L436.2,68.0L437.3,65.2L437.8,62.4L437.7,59.6L436.9,56.8L435.6,54.0L433.7,51.4L431.2,48.8L428.3,46.3L424.8,44.0L420.8,41.7L416.5,39.7L411.7,37.8L406.5,36.0L401.1,34.5L395.3,33.1L389.3,32.0L383.1,31.0L376.7,30.2L370.2,29.7L363.6,29.4L357.0,29.3L350.4,29.4L343.8,29.7L337.3,30.2L330.9,31.0L324.7,32.0L318.7,33.1L312.9,34.5L307.5,36.0L302.3,37.8L297.5,39.7L293.2,41.7L289.2,44.0L285.7,46.3L282.8,48.8L280.3,51.4L278.4,54.0L277.1,56.8L276.3,59.6L276.2,62.4L276.7,65.2L277.8,68.0L279.6,70.8L282.0,73.5L284.9,76.2L288.5,78.7L292.7,81.1L297.4,83.3L302.6,85.4L308.3,87.3L314.4,89.0L320.9,90.4L327.7,91.6L334.8,92.6L342.1,93.3L349.5,93.7Z M357.0,83.5L364.0,83.4L370.9,83.0L377.7,82.4L384.3,81.5L390.7,80.4L396.8,79.1L402.5,77.6L407.8,75.8L412.7,73.9L417.1,71.9L421.0,69.7L424.4,67.3L427.2,64.9L429.4,62.4L431.1,59.8L432.2,57.2L432.7,54.6L432.6,52.0L431.9,49.5L430.7,46.9L428.9,44.5L426.7,42.1L423.9,39.8L420.6,37.6L416.9,35.5L412.8,33.6L408.4,31.9L403.5,30.2L398.4,28.8L393.0,27.5L387.4,26.5L381.5,25.6L375.5,24.9L369.4,24.4L363.2,24.1L357.0,24.0L350.8,24.1L344.6,24.4L338.5,24.9L332.5,25.6L326.6,26.5L321.0,27.5L315.6,28.8L310.5,30.2L305.6,31.9L301.2,33.6L297.1,35.5L293.4,37.6L290.1,39.8L287.3,42.1L285.1,44.5L283.3,46.9L282.1,49.5L281.4,52.0L281.3,54.6L281.8,57.2L282.9,59.8L284.6,62.4L286.8,64.9L289.6,67.3L293.0,69.7L296.9,71.9L301.3,73.9L306.2,75.8L311.5,77.6L317.2,79.1L323.3,80.4L329.7,81.5L336.3,82.4L343.1,83.0L350.0,83.4Z M357.0,73.5L363.4,73.4L369.8,73.1L376.0,72.5L382.1,71.7L387.9,70.7L393.5,69.5L398.7,68.1L403.6,66.6L408.1,64.8L412.2,63.0L415.8,61.0L418.9,58.9L421.5,56.7L423.6,54.4L425.2,52.1L426.2,49.8L426.7,47.4L426.6,45.0L426.0,42.7L424.9,40.4L423.3,38.1L421.3,36.0L418.7,33.9L415.7,31.9L412.3,30.0L408.6,28.2L404.5,26.6L400.0,25.2L395.3,23.8L390.3,22.7L385.1,21.7L379.7,20.9L374.1,20.2L368.5,19.8L362.8,19.5L357.0,19.4L351.2,19.5L345.5,19.8L339.9,20.2L334.3,20.9L328.9,21.7L323.7,22.7L318.7,23.8L314.0,25.2L309.5,26.6L305.4,28.2L301.7,30.0L298.3,31.9L295.3,33.9L292.7,36.0L290.7,38.1L289.1,40.4L288.0,42.7L287.4,45.0L287.3,47.4L287.8,49.8L288.8,52.1L290.4,54.4L292.5,56.7L295.1,58.9L298.2,61.0L301.8,63.0L305.9,64.8L310.4,66.6L315.3,68.1L320.5,69.5L326.1,70.7L331.9,71.7L338.0,72.5L344.2,73.1L350.6,73.4Z M357.0,63.9L362.7,63.8L368.4,63.5L374.0,63.0L379.5,62.3L384.8,61.4L389.8,60.3L394.5,59.1L398.9,57.7L403.0,56.2L406.7,54.6L409.9,52.8L412.7,50.9L415.1,49.0L417.0,47.0L418.5,44.9L419.4,42.8L419.9,40.7L419.8,38.6L419.3,36.5L418.4,34.5L417.0,32.5L415.1,30.5L412.8,28.6L410.2,26.9L407.1,25.2L403.7,23.6L400.0,22.2L396.0,20.8L391.7,19.6L387.2,18.6L382.5,17.7L377.6,17.0L372.5,16.4L367.4,16.0L362.2,15.7L357.0,15.7L351.8,15.7L346.6,16.0L341.5,16.4L336.4,17.0L331.5,17.7L326.8,18.6L322.3,19.6L318.0,20.8L314.0,22.2L310.3,23.6L306.9,25.2L303.8,26.9L301.2,28.6L298.9,30.5L297.0,32.5L295.6,34.5L294.7,36.5L294.2,38.6L294.1,40.7L294.6,42.8L295.5,44.9L297.0,47.0L298.9,49.0L301.3,50.9L304.1,52.8L307.3,54.6L311.0,56.2L315.1,57.7L319.5,59.1L324.2,60.3L329.2,61.4L334.5,62.3L340.0,63.0L345.6,63.5L351.3,63.8Z M357.0,54.7L362.0,54.6L367.0,54.4L371.9,53.9L376.7,53.3L381.3,52.6L385.7,51.7L389.9,50.6L393.7,49.4L397.3,48.1L400.6,46.7L403.4,45.2L405.9,43.6L408.0,41.9L409.7,40.1L411.0,38.3L411.9,36.5L412.3,34.7L412.3,32.9L411.9,31.1L411.1,29.3L409.9,27.5L408.3,25.8L406.3,24.2L403.9,22.6L401.3,21.1L398.3,19.8L395.0,18.5L391.5,17.3L387.7,16.3L383.7,15.4L379.5,14.6L375.2,13.9L370.8,13.4L366.2,13.1L361.6,12.9L357.0,12.8L352.4,12.9L347.8,13.1L343.2,13.4L338.8,13.9L334.5,14.6L330.3,15.4L326.3,16.3L322.5,17.3L319.0,18.5L315.7,19.8L312.7,21.1L310.1,22.6L307.7,24.2L305.7,25.8L304.1,27.5L302.9,29.3L302.1,31.1L301.7,32.9L301.7,34.7L302.1,36.5L303.0,38.3L304.3,40.1L306.0,41.9L308.1,43.6L310.6,45.2L313.4,46.7L316.7,48.1L320.3,49.4L324.1,50.6L328.3,51.7L332.7,52.6L337.3,53.3L342.1,53.9L347.0,54.4L352.0,54.6Z M357.0,46.2L361.3,46.1L365.5,45.9L369.6,45.6L373.7,45.1L377.6,44.4L381.3,43.7L384.9,42.8L388.2,41.8L391.2,40.7L394.0,39.5L396.4,38.2L398.6,36.9L400.4,35.5L401.9,34.0L403.0,32.5L403.7,31.0L404.1,29.4L404.2,27.9L403.8,26.3L403.2,24.8L402.1,23.4L400.8,21.9L399.1,20.5L397.1,19.2L394.8,18.0L392.3,16.8L389.5,15.7L386.5,14.7L383.3,13.8L379.9,13.0L376.3,12.4L372.6,11.8L368.8,11.4L364.9,11.1L361.0,10.9L357.0,10.8L353.0,10.9L349.1,11.1L345.2,11.4L341.4,11.8L337.7,12.4L334.1,13.0L330.7,13.8L327.5,14.7L324.5,15.7L321.7,16.8L319.2,18.0L316.9,19.2L314.9,20.5L313.2,21.9L311.9,23.4L310.8,24.8L310.2,26.3L309.8,27.9L309.9,29.4L310.3,31.0L311.0,32.5L312.1,34.0L313.6,35.5L315.4,36.9L317.6,38.2L320.0,39.5L322.8,40.7L325.8,41.8L329.1,42.8L332.7,43.7L336.4,44.4L340.3,45.1L344.4,45.6L348.5,45.9L352.7,46.1Z M357.0,38.4L360.4,38.4L363.9,38.2L367.2,37.9L370.5,37.5L373.7,37.0L376.7,36.4L379.6,35.7L382.3,34.9L384.7,34.0L387.0,33.1L389.0,32.0L390.8,31.0L392.3,29.8L393.5,28.6L394.4,27.4L395.0,26.2L395.4,25.0L395.4,23.7L395.2,22.5L394.6,21.2L393.8,20.0L392.7,18.9L391.4,17.8L389.8,16.7L388.0,15.7L385.9,14.7L383.6,13.8L381.2,13.0L378.5,12.3L375.7,11.7L372.8,11.1L369.8,10.7L366.7,10.3L363.5,10.1L360.3,9.9L357.0,9.8L353.7,9.9L350.5,10.1L347.3,10.3L344.2,10.7L341.2,11.1L338.3,11.7L335.5,12.3L332.8,13.0L330.4,13.8L328.1,14.7L326.0,15.7L324.2,16.7L322.6,17.8L321.3,18.9L320.2,20.0L319.4,21.2L318.8,22.5L318.6,23.7L318.6,25.0L319.0,26.2L319.6,27.4L320.5,28.6L321.7,29.8L323.2,31.0L325.0,32.0L327.0,33.1L329.3,34.0L331.7,34.9L334.4,35.7L337.3,36.4L340.3,37.0L343.5,37.5L346.8,37.9L350.1,38.2L353.6,38.4Z M357.0,31.4L359.6,31.4L362.2,31.3L364.7,31.1L367.2,30.8L369.6,30.4L371.9,29.9L374.1,29.4L376.1,28.8L378.0,28.2L379.7,27.4L381.2,26.7L382.6,25.9L383.7,25.0L384.7,24.1L385.4,23.2L385.9,22.3L386.2,21.4L386.2,20.4L386.1,19.5L385.7,18.5L385.1,17.6L384.3,16.8L383.2,15.9L382.0,15.1L380.6,14.3L379.1,13.6L377.3,12.9L375.5,12.3L373.5,11.7L371.3,11.2L369.1,10.8L366.8,10.5L364.4,10.2L362.0,10.0L359.5,9.9L357.0,9.9L354.5,9.9L352.0,10.0L349.6,10.2L347.2,10.5L344.9,10.8L342.7,11.2L340.5,11.7L338.5,12.3L336.7,12.9L334.9,13.6L333.4,14.3L332.0,15.1L330.8,15.9L329.7,16.8L328.9,17.6L328.3,18.5L327.9,19.5L327.8,20.4L327.8,21.4L328.1,22.3L328.6,23.2L329.3,24.1L330.3,25.0L331.4,25.9L332.8,26.7L334.3,27.4L336.0,28.2L337.9,28.8L339.9,29.4L342.1,29.9L344.4,30.4L346.8,30.8L349.3,31.1L351.8,31.3L354.4,31.4Z M357.0,25.4L358.7,25.3L360.5,25.2L362.2,25.1L363.8,24.9L365.4,24.7L367.0,24.4L368.4,24.0L369.8,23.6L371.1,23.2L372.2,22.7L373.3,22.2L374.2,21.7L375.0,21.1L375.6,20.5L376.1,19.9L376.4,19.3L376.6,18.7L376.7,18.0L376.6,17.4L376.3,16.8L375.9,16.2L375.4,15.6L374.7,15.0L373.9,14.4L373.0,13.9L371.9,13.4L370.8,13.0L369.5,12.5L368.2,12.2L366.7,11.8L365.2,11.6L363.6,11.3L362.0,11.1L360.4,11.0L358.7,10.9L357.0,10.9L355.3,10.9L353.6,11.0L352.0,11.1L350.4,11.3L348.8,11.6L347.3,11.8L345.8,12.2L344.5,12.5L343.2,13.0L342.1,13.4L341.0,13.9L340.1,14.4L339.3,15.0L338.6,15.6L338.1,16.2L337.7,16.8L337.4,17.4L337.3,18.0L337.4,18.7L337.6,19.3L337.9,19.9L338.4,20.5L339.0,21.1L339.8,21.7L340.7,22.2L341.8,22.7L342.9,23.2L344.2,23.6L345.6,24.0L347.0,24.4L348.6,24.7L350.2,24.9L351.8,25.1L353.5,25.2L355.3,25.3Z M357.0,20.2L357.9,20.2L358.7,20.2L359.6,20.1L360.4,20.0L361.2,19.9L362.0,19.7L362.7,19.6L363.4,19.4L364.0,19.2L364.6,18.9L365.1,18.7L365.6,18.4L366.0,18.1L366.3,17.8L366.6,17.5L366.8,17.2L366.9,16.9L366.9,16.6L366.9,16.3L366.7,15.9L366.5,15.6L366.3,15.3L365.9,15.0L365.5,14.8L365.1,14.5L364.5,14.3L364.0,14.0L363.3,13.8L362.6,13.6L361.9,13.5L361.2,13.3L360.4,13.2L359.5,13.1L358.7,13.0L357.9,13.0L357.0,13.0L356.1,13.0L355.3,13.0L354.5,13.1L353.6,13.2L352.8,13.3L352.1,13.5L351.4,13.6L350.7,13.8L350.0,14.0L349.5,14.3L348.9,14.5L348.5,14.8L348.1,15.0L347.7,15.3L347.5,15.6L347.3,15.9L347.1,16.3L347.1,16.6L347.1,16.9L347.2,17.2L347.4,17.5L347.7,17.8L348.0,18.1L348.4,18.4L348.9,18.7L349.4,18.9L350.0,19.2L350.6,19.4L351.3,19.6L352.0,19.7L352.8,19.9L353.6,20.0L354.4,20.1L355.3,20.2L356.1,20.2Z M357.0,181.6L357.1,184.5L357.2,187.0L357.3,189.1L357.3,190.8L357.4,192.1L357.5,193.0L357.6,193.4L357.7,193.4L357.8,192.9L357.8,192.0L357.9,190.6L358.0,188.8L358.0,186.5L358.1,183.7L358.2,180.5L358.2,176.9L358.3,172.8L358.3,168.4L358.3,163.5L358.3,158.3L358.4,152.8L358.4,147.0L358.4,140.9L358.4,134.6L358.4,128.0L358.3,121.3L358.3,114.5L358.3,107.7L358.2,100.7L358.2,93.8L358.1,86.9L358.1,80.2L358.0,73.5L358.0,67.0L357.9,60.8L357.8,54.7L357.7,49.0L357.6,43.5L357.6,38.4L357.5,33.7L357.4,29.3L357.3,25.4L357.2,21.8L357.1,18.7L357.0,16.1 M357.0,181.6L358.1,184.4L359.2,186.9L360.3,189.0L361.3,190.6L362.4,191.9L363.5,192.7L364.5,193.1L365.5,193.0L366.5,192.5L367.4,191.6L368.4,190.1L369.2,188.3L370.0,185.9L370.8,183.1L371.4,179.9L372.0,176.3L372.6,172.2L373.1,167.7L373.4,162.9L373.7,157.7L374.0,152.1L374.1,146.3L374.1,140.2L374.1,133.9L374.0,127.4L373.7,120.7L373.4,113.9L373.0,107.0L372.5,100.1L372.0,93.3L371.3,86.4L370.6,79.7L369.8,73.1L368.9,66.6L368.0,60.4L367.1,54.4L366.0,48.7L365.0,43.2L363.9,38.2L362.8,33.5L361.6,29.2L360.5,25.2L359.3,21.8L358.2,18.7L357.0,16.1 M357.0,181.6L359.0,184.3L361.1,186.6L363.2,188.6L365.2,190.1L367.2,191.2L369.2,191.9L371.2,192.2L373.1,192.0L375.0,191.4L376.8,190.4L378.5,188.8L380.1,186.9L381.6,184.4L383.0,181.6L384.3,178.3L385.4,174.5L386.4,170.4L387.3,165.9L388.0,161.0L388.6,155.8L389.0,150.3L389.3,144.4L389.4,138.4L389.3,132.1L389.0,125.6L388.6,119.0L388.0,112.2L387.2,105.4L386.3,98.6L385.2,91.8L384.0,85.0L382.7,78.4L381.2,71.8L379.6,65.5L377.8,59.3L376.0,53.4L374.1,47.8L372.1,42.5L370.0,37.6L367.9,33.0L365.8,28.7L363.6,24.9L361.4,21.6L359.2,18.6L357.0,16.1 M357.0,181.6L360.0,184.1L362.9,186.2L365.9,188.0L368.9,189.3L371.8,190.2L374.7,190.7L377.5,190.8L380.3,190.5L382.9,189.7L385.5,188.4L387.9,186.7L390.2,184.6L392.4,182.0L394.4,179.1L396.3,175.6L397.9,171.8L399.4,167.6L400.6,163.1L401.7,158.1L402.5,152.9L403.1,147.3L403.5,141.5L403.6,135.5L403.4,129.2L403.1,122.8L402.5,116.2L401.6,109.6L400.5,102.8L399.2,96.1L397.7,89.4L395.9,82.8L394.0,76.3L391.8,69.9L389.5,63.7L387.0,57.7L384.4,52.0L381.6,46.5L378.8,41.4L375.8,36.6L372.8,32.2L369.7,28.1L366.5,24.5L363.3,21.2L360.2,18.4L357.0,16.1 M357.0,181.6L360.8,183.8L364.6,185.7L368.4,187.2L372.2,188.2L375.9,188.9L379.6,189.1L383.2,188.9L386.7,188.3L390.1,187.3L393.4,185.8L396.5,183.9L399.4,181.6L402.2,178.8L404.8,175.7L407.1,172.1L409.2,168.2L411.0,163.9L412.6,159.2L414.0,154.3L415.0,149.0L415.7,143.4L416.2,137.6L416.3,131.6L416.2,125.4L415.7,119.0L414.9,112.5L413.9,106.0L412.5,99.4L410.8,92.8L408.9,86.3L406.6,79.8L404.2,73.5L401.5,67.3L398.5,61.3L395.4,55.5L392.0,50.0L388.5,44.8L384.8,39.8L381.1,35.3L377.2,31.1L373.2,27.2L369.2,23.8L365.1,20.8L361.1,18.2L357.0,16.1 M357.0,181.6L361.5,183.5L366.1,185.0L370.6,186.2L375.1,186.9L379.6,187.2L383.9,187.1L388.2,186.6L392.4,185.7L396.4,184.4L400.2,182.6L403.9,180.5L407.4,177.9L410.7,175.0L413.7,171.6L416.4,167.9L418.9,163.8L421.1,159.4L423.0,154.6L424.5,149.5L425.7,144.2L426.6,138.6L427.1,132.8L427.3,126.8L427.1,120.7L426.6,114.4L425.7,108.1L424.4,101.7L422.8,95.2L420.8,88.8L418.5,82.5L415.9,76.2L413.0,70.1L409.8,64.1L406.3,58.4L402.6,52.8L398.6,47.6L394.5,42.6L390.1,38.0L385.6,33.7L381.0,29.7L376.3,26.2L371.5,23.0L366.7,20.3L361.8,18.0L357.0,16.1 M357.0,181.6L362.2,183.1L367.3,184.3L372.4,185.0L377.5,185.3L382.6,185.3L387.5,184.8L392.3,184.0L397.0,182.7L401.6,181.1L405.9,179.0L410.0,176.5L413.9,173.7L417.6,170.5L421.0,166.9L424.0,163.0L426.8,158.7L429.3,154.2L431.4,149.3L433.1,144.2L434.5,138.8L435.4,133.2L436.0,127.4L436.2,121.4L436.0,115.4L435.4,109.2L434.4,103.0L433.0,96.7L431.1,90.4L428.9,84.2L426.4,78.1L423.5,72.1L420.2,66.2L416.6,60.5L412.7,55.0L408.5,49.8L404.1,44.8L399.4,40.1L394.5,35.8L389.4,31.8L384.2,28.2L378.9,24.9L373.5,22.1L368.0,19.7L362.5,17.7L357.0,16.1 M357.0,181.6L362.6,182.7L368.3,183.4L373.9,183.7L379.4,183.6L384.9,183.2L390.3,182.3L395.5,181.1L400.6,179.4L405.5,177.4L410.2,175.0L414.6,172.2L418.9,169.1L422.8,165.6L426.4,161.8L429.8,157.6L432.7,153.2L435.4,148.5L437.6,143.5L439.5,138.3L440.9,132.8L442.0,127.2L442.6,121.4L442.8,115.5L442.6,109.5L441.9,103.5L440.8,97.4L439.3,91.3L437.4,85.2L435.0,79.2L432.3,73.3L429.1,67.5L425.6,61.9L421.7,56.5L417.5,51.3L413.0,46.4L408.2,41.7L403.1,37.4L397.9,33.4L392.4,29.7L386.7,26.4L380.9,23.5L375.0,21.0L369.0,19.0L363.0,17.3L357.0,16.1 M357.0,181.6L363.0,182.2L368.9,182.5L374.9,182.3L380.7,181.8L386.5,180.9L392.1,179.6L397.6,177.9L403.0,175.9L408.1,173.5L413.0,170.7L417.7,167.6L422.1,164.1L426.2,160.4L430.0,156.3L433.4,151.9L436.6,147.3L439.3,142.4L441.6,137.3L443.6,132.0L445.1,126.5L446.2,120.9L446.8,115.2L447.0,109.3L446.8,103.4L446.1,97.4L445.0,91.5L443.4,85.5L441.4,79.7L438.9,73.9L436.1,68.2L432.8,62.7L429.1,57.4L425.1,52.3L420.7,47.4L416.0,42.8L410.9,38.5L405.6,34.5L400.1,30.8L394.3,27.5L388.4,24.6L382.3,22.1L376.1,19.9L369.7,18.2L363.4,16.9L357.0,16.1 M357.0,181.6L363.2,181.8L369.3,181.5L375.4,180.9L381.4,179.9L387.3,178.5L393.1,176.8L398.7,174.7L404.1,172.2L409.4,169.4L414.4,166.3L419.1,162.8L423.6,159.1L427.7,155.0L431.6,150.7L435.1,146.1L438.2,141.3L441.0,136.3L443.3,131.1L445.3,125.7L446.8,120.1L447.9,114.5L448.6,108.7L448.8,102.9L448.6,97.1L447.9,91.3L446.7,85.4L445.1,79.7L443.1,74.0L440.6,68.4L437.7,63.0L434.4,57.8L430.7,52.7L426.6,47.9L422.2,43.4L417.4,39.1L412.3,35.1L406.9,31.5L401.2,28.2L395.3,25.2L389.2,22.7L383.0,20.5L376.6,18.8L370.1,17.5L363.6,16.6L357.0,16.1 M357.0,181.6L363.2,181.3L369.3,180.5L375.4,179.4L381.4,178.0L387.3,176.1L393.1,174.0L398.6,171.4L404.1,168.6L409.2,165.4L414.2,161.9L418.9,158.1L423.3,154.0L427.4,149.7L431.2,145.1L434.7,140.3L437.8,135.3L440.5,130.1L442.8,124.8L444.7,119.3L446.2,113.7L447.3,108.1L448.0,102.3L448.2,96.6L447.9,90.8L447.3,85.1L446.1,79.4L444.6,73.8L442.6,68.3L440.1,63.0L437.3,57.8L434.0,52.8L430.4,48.1L426.3,43.6L421.9,39.3L417.2,35.4L412.1,31.7L406.8,28.4L401.2,25.5L395.3,22.9L389.2,20.8L383.0,19.0L376.6,17.6L370.2,16.7L363.6,16.2L357.0,16.1 M357.0,181.6L363.0,180.8L369.0,179.6L375.0,178.0L380.8,176.1L386.5,173.8L392.1,171.2L397.5,168.2L402.8,165.0L407.8,161.4L412.6,157.6L417.1,153.4L421.4,149.1L425.3,144.5L429.0,139.7L432.3,134.7L435.2,129.5L437.9,124.2L440.1,118.7L441.9,113.2L443.4,107.5L444.4,101.9L445.0,96.2L445.2,90.4L445.0,84.8L444.4,79.1L443.3,73.6L441.8,68.2L439.9,62.9L437.5,57.7L434.8,52.8L431.7,48.0L428.1,43.6L424.2,39.3L420.0,35.4L415.4,31.7L410.6,28.4L405.4,25.5L400.0,22.9L394.3,20.7L388.4,18.9L382.4,17.5L376.2,16.5L369.8,15.9L363.4,15.8L357.0,16.1 M357.0,181.6L362.7,180.3L368.4,178.7L374.1,176.6L379.6,174.3L385.0,171.5L390.3,168.5L395.4,165.2L400.3,161.5L405.1,157.6L409.6,153.4L413.8,149.0L417.8,144.4L421.5,139.5L424.9,134.5L428.0,129.3L430.8,124.0L433.2,118.5L435.3,113.0L437.0,107.3L438.4,101.7L439.3,96.0L439.9,90.3L440.1,84.6L439.9,79.0L439.3,73.5L438.3,68.1L436.9,62.8L435.1,57.7L432.9,52.7L430.4,48.0L427.4,43.5L424.1,39.3L420.5,35.3L416.5,31.6L412.3,28.3L407.7,25.3L402.8,22.7L397.7,20.4L392.4,18.5L386.8,17.1L381.1,16.0L375.2,15.4L369.2,15.2L363.1,15.4L357.0,16.1 M357.0,181.6L362.3,179.9L367.6,177.8L372.7,175.3L377.8,172.6L382.8,169.4L387.6,166.0L392.3,162.3L396.8,158.3L401.1,154.1L405.2,149.6L409.1,144.9L412.8,140.0L416.1,135.0L419.2,129.7L422.1,124.4L424.6,118.9L426.8,113.3L428.7,107.7L430.2,102.0L431.4,96.3L432.3,90.6L432.8,84.9L433.0,79.3L432.8,73.8L432.3,68.3L431.4,63.0L430.1,57.9L428.5,52.9L426.5,48.1L424.2,43.6L421.5,39.3L418.5,35.3L415.2,31.6L411.6,28.2L407.7,25.1L403.5,22.4L399.1,20.0L394.4,18.1L389.5,16.5L384.4,15.4L379.2,14.6L373.8,14.3L368.3,14.5L362.7,15.1L357.0,16.1 M357.0,181.6L361.7,179.5L366.4,177.0L371.0,174.2L375.5,171.0L379.9,167.6L384.2,163.8L388.4,159.8L392.3,155.5L396.1,151.0L399.8,146.2L403.2,141.3L406.4,136.2L409.4,130.9L412.1,125.5L414.6,120.0L416.8,114.3L418.7,108.7L420.4,103.0L421.7,97.2L422.8,91.5L423.6,85.8L424.0,80.1L424.2,74.5L424.0,69.1L423.5,63.7L422.7,58.5L421.6,53.5L420.2,48.6L418.5,44.0L416.4,39.7L414.1,35.6L411.5,31.7L408.6,28.2L405.4,25.1L401.9,22.2L398.2,19.8L394.3,17.7L390.2,16.0L385.9,14.7L381.4,13.8L376.7,13.4L371.9,13.4L367.0,13.9L362.0,14.8L357.0,16.1 M357.0,181.6L361.0,179.1L365.0,176.3L368.9,173.2L372.7,169.7L376.5,165.9L380.1,161.9L383.6,157.6L387.0,153.0L390.2,148.2L393.3,143.3L396.2,138.1L398.9,132.8L401.4,127.4L403.7,121.8L405.7,116.2L407.6,110.4L409.2,104.7L410.6,98.9L411.8,93.1L412.7,87.4L413.3,81.6L413.7,76.0L413.8,70.5L413.7,65.0L413.3,59.7L412.6,54.6L411.7,49.7L410.5,45.0L409.0,40.5L407.3,36.3L405.3,32.3L403.1,28.7L400.7,25.4L398.0,22.4L395.1,19.8L392.0,17.5L388.7,15.6L385.2,14.2L381.5,13.1L377.7,12.5L373.8,12.3L369.7,12.6L365.5,13.3L361.3,14.5L357.0,16.1 M357.0,181.6L360.2,178.9L363.4,175.7L366.5,172.3L369.6,168.6L372.6,164.6L375.5,160.3L378.3,155.7L380.9,151.0L383.5,146.0L385.9,140.8L388.2,135.5L390.4,130.1L392.4,124.5L394.2,118.8L395.8,113.0L397.3,107.2L398.6,101.4L399.7,95.6L400.6,89.8L401.3,84.0L401.8,78.3L402.1,72.6L402.2,67.1L402.1,61.7L401.8,56.5L401.3,51.5L400.5,46.6L399.6,42.0L398.4,37.6L397.1,33.5L395.5,29.7L393.8,26.2L391.8,23.0L389.7,20.2L387.4,17.7L384.9,15.6L382.3,14.0L379.5,12.7L376.6,11.8L373.6,11.4L370.4,11.5L367.2,11.9L363.8,12.9L360.4,14.3L357.0,16.1 M357.0,181.6L359.3,178.6L361.6,175.3L363.9,171.7L366.1,167.7L368.3,163.5L370.4,159.0L372.4,154.3L374.3,149.4L376.2,144.3L377.9,139.0L379.6,133.5L381.1,128.0L382.5,122.3L383.9,116.5L385.0,110.7L386.1,104.8L387.0,98.9L387.8,93.1L388.5,87.2L389.0,81.4L389.4,75.7L389.6,70.1L389.6,64.6L389.6,59.2L389.3,54.0L389.0,49.0L388.4,44.3L387.7,39.7L386.9,35.4L385.9,31.4L384.8,27.7L383.6,24.3L382.2,21.2L380.6,18.5L379.0,16.2L377.2,14.2L375.3,12.7L373.3,11.6L371.2,10.9L369.0,10.6L366.7,10.8L364.4,11.4L362.0,12.5L359.5,14.1L357.0,16.1 M357.0,181.6L358.4,178.5L359.8,175.0L361.1,171.2L362.4,167.2L363.7,162.8L365.0,158.2L366.1,153.4L367.3,148.4L368.4,143.1L369.4,137.7L370.4,132.2L371.3,126.6L372.2,120.8L373.0,115.0L373.7,109.1L374.3,103.2L374.8,97.3L375.3,91.4L375.7,85.5L376.0,79.7L376.2,74.0L376.3,68.4L376.4,62.9L376.3,57.6L376.2,52.4L376.0,47.4L375.7,42.7L375.3,38.2L374.8,34.0L374.2,30.0L373.5,26.3L372.8,23.0L371.9,20.0L371.0,17.4L370.1,15.1L369.0,13.3L367.9,11.8L366.7,10.8L365.4,10.2L364.1,10.0L362.8,10.3L361.4,11.1L359.9,12.3L358.5,14.0L357.0,16.1 M357.0,181.6L357.4,178.4L357.8,174.9L358.2,171.0L358.6,166.9L359.0,162.5L359.3,157.8L359.7,153.0L360.0,147.9L360.4,142.6L360.7,137.2L360.9,131.6L361.2,125.9L361.5,120.1L361.7,114.3L361.9,108.3L362.1,102.4L362.2,96.5L362.4,90.6L362.5,84.7L362.6,78.9L362.7,73.2L362.7,67.6L362.7,62.1L362.7,56.8L362.6,51.6L362.6,46.7L362.5,42.0L362.4,37.5L362.2,33.3L362.1,29.3L361.9,25.7L361.6,22.4L361.4,19.4L361.1,16.9L360.8,14.6L360.5,12.8L360.2,11.4L359.9,10.4L359.5,9.9L359.1,9.8L358.7,10.1L358.3,10.9L357.9,12.2L357.4,13.9L357.0,16.1 M357.0,181.6L356.4,178.4L355.8,174.9L355.3,171.1L354.7,166.9L354.2,162.5L353.7,157.9L353.2,153.0L352.7,147.9L352.2,142.6L351.8,137.2L351.4,131.6L351.0,126.0L350.7,120.2L350.3,114.3L350.0,108.4L349.8,102.5L349.6,96.6L349.4,90.6L349.2,84.8L349.1,79.0L349.0,73.2L348.9,67.6L348.9,62.2L348.9,56.8L349.0,51.7L349.1,46.7L349.2,42.0L349.4,37.5L349.6,33.3L349.8,29.4L350.1,25.8L350.4,22.5L350.8,19.5L351.1,16.9L351.5,14.7L352.0,12.9L352.5,11.5L353.0,10.5L353.5,9.9L354.0,9.8L354.6,10.1L355.2,10.9L355.8,12.2L356.4,13.9L357.0,16.1 M357.0,181.6L355.4,178.5L353.9,175.1L352.4,171.3L350.9,167.2L349.5,162.9L348.1,158.3L346.7,153.5L345.5,148.5L344.2,143.3L343.1,137.9L342.0,132.4L340.9,126.8L340.0,121.0L339.1,115.2L338.3,109.3L337.6,103.4L337.0,97.5L336.5,91.6L336.1,85.7L335.7,79.9L335.5,74.2L335.3,68.6L335.3,63.1L335.3,57.8L335.5,52.6L335.7,47.7L336.1,42.9L336.5,38.4L337.1,34.2L337.7,30.2L338.5,26.5L339.3,23.2L340.3,20.2L341.3,17.5L342.4,15.3L343.6,13.4L344.8,11.9L346.2,10.9L347.6,10.3L349.0,10.1L350.5,10.4L352.1,11.1L353.7,12.3L355.3,14.0L357.0,16.1 M357.0,181.6L354.5,178.7L352.0,175.4L349.6,171.8L347.3,167.9L345.0,163.7L342.7,159.2L340.6,154.5L338.5,149.6L336.5,144.5L334.6,139.3L332.9,133.8L331.2,128.3L329.7,122.6L328.3,116.9L327.0,111.0L325.9,105.2L324.9,99.3L324.1,93.4L323.4,87.6L322.8,81.8L322.4,76.1L322.2,70.5L322.1,65.0L322.2,59.6L322.4,54.4L322.9,49.4L323.4,44.6L324.1,40.1L325.0,35.7L326.1,31.7L327.3,28.0L328.6,24.6L330.1,21.5L331.8,18.8L333.5,16.4L335.4,14.4L337.5,12.9L339.6,11.7L341.9,11.0L344.2,10.7L346.6,10.9L349.1,11.5L351.7,12.6L354.3,14.1L357.0,16.1 M357.0,181.6L353.6,178.9L350.3,175.8L347.0,172.4L343.8,168.8L340.7,164.8L337.7,160.5L334.8,156.0L332.0,151.3L329.3,146.3L326.7,141.2L324.3,135.9L322.1,130.5L320.0,124.9L318.1,119.3L316.4,113.5L314.8,107.7L313.5,101.9L312.3,96.1L311.4,90.3L310.7,84.5L310.1,78.8L309.8,73.2L309.7,67.6L309.8,62.2L310.1,57.0L310.7,52.0L311.5,47.1L312.5,42.5L313.7,38.1L315.1,33.9L316.7,30.1L318.6,26.6L320.6,23.4L322.8,20.5L325.2,18.0L327.8,15.9L330.6,14.2L333.5,12.9L336.5,12.0L339.7,11.6L343.0,11.6L346.4,12.0L349.9,12.9L353.4,14.3L357.0,16.1 M357.0,181.6L352.8,179.2L348.7,176.4L344.7,173.3L340.7,169.9L336.9,166.2L333.1,162.2L329.5,157.9L326.0,153.4L322.7,148.7L319.5,143.7L316.6,138.6L313.8,133.3L311.2,127.9L308.8,122.4L306.6,116.8L304.7,111.1L303.0,105.3L301.6,99.5L300.4,93.8L299.5,88.0L298.8,82.3L298.4,76.7L298.3,71.1L298.4,65.7L298.9,60.4L299.5,55.3L300.5,50.3L301.7,45.6L303.3,41.1L305.0,36.8L307.1,32.9L309.3,29.2L311.9,25.8L314.6,22.8L317.6,20.2L320.9,17.9L324.3,16.0L327.9,14.5L331.7,13.4L335.6,12.7L339.7,12.5L343.9,12.7L348.2,13.4L352.6,14.5L357.0,16.1 M357.0,181.6L352.2,179.6L347.4,177.1L342.7,174.4L338.1,171.3L333.5,167.9L329.1,164.2L324.9,160.2L320.8,156.0L316.9,151.5L313.2,146.8L309.7,141.9L306.4,136.8L303.4,131.6L300.6,126.2L298.0,120.7L295.8,115.1L293.8,109.4L292.1,103.7L290.7,98.0L289.6,92.3L288.8,86.6L288.3,80.9L288.2,75.3L288.3,69.8L288.8,64.5L289.7,59.3L290.8,54.2L292.3,49.3L294.0,44.7L296.1,40.3L298.5,36.2L301.2,32.3L304.2,28.8L307.5,25.6L311.0,22.7L314.8,20.2L318.8,18.1L323.0,16.3L327.4,15.0L332.0,14.1L336.8,13.6L341.7,13.6L346.7,14.0L351.8,14.8L357.0,16.1 M357.0,181.6L351.6,180.0L346.3,177.9L341.0,175.6L335.8,172.8L330.8,169.8L325.8,166.4L321.1,162.8L316.5,158.9L312.1,154.7L307.9,150.3L304.0,145.6L300.3,140.8L296.8,135.7L293.7,130.5L290.8,125.2L288.2,119.7L286.0,114.2L284.1,108.6L282.5,102.9L281.2,97.2L280.3,91.5L279.8,85.8L279.6,80.2L279.8,74.6L280.4,69.2L281.3,63.9L282.6,58.7L284.2,53.7L286.3,48.9L288.6,44.3L291.3,40.0L294.4,36.0L297.8,32.2L301.4,28.7L305.4,25.6L309.7,22.9L314.2,20.5L319.0,18.5L323.9,16.8L329.1,15.6L334.5,14.9L339.9,14.5L345.6,14.6L351.2,15.1L357.0,16.1 M357.0,181.6L351.2,180.4L345.4,178.8L339.7,176.9L334.1,174.6L328.7,171.9L323.3,169.0L318.2,165.7L313.2,162.1L308.4,158.3L303.8,154.1L299.5,149.8L295.5,145.2L291.7,140.4L288.3,135.4L285.1,130.2L282.3,124.9L279.8,119.5L277.7,113.9L276.0,108.3L274.6,102.7L273.6,97.0L273.0,91.3L272.9,85.6L273.1,80.0L273.7,74.5L274.7,69.0L276.1,63.7L277.9,58.6L280.1,53.6L282.7,48.8L285.7,44.3L289.0,40.0L292.7,36.0L296.8,32.3L301.1,28.9L305.7,25.8L310.7,23.1L315.8,20.8L321.2,18.9L326.9,17.4L332.7,16.3L338.6,15.6L344.7,15.3L350.8,15.5L357.0,16.1 M357.0,181.6L350.9,180.9L344.9,179.7L338.9,178.3L333.0,176.4L327.3,174.2L321.7,171.7L316.2,168.8L310.9,165.6L305.9,162.1L301.0,158.3L296.5,154.2L292.2,149.9L288.2,145.4L284.5,140.6L281.2,135.6L278.2,130.5L275.5,125.2L273.3,119.8L271.4,114.2L270.0,108.6L268.9,102.9L268.3,97.2L268.1,91.5L268.3,85.8L269.0,80.2L270.1,74.6L271.6,69.1L273.5,63.8L275.9,58.6L278.6,53.6L281.8,48.9L285.4,44.3L289.3,40.0L293.5,36.1L298.1,32.4L303.1,29.0L308.3,26.0L313.7,23.3L319.5,21.1L325.4,19.2L331.5,17.7L337.7,16.7L344.1,16.1L350.5,15.9L357.0,16.1 M357.0,181.6L350.8,181.4L344.7,180.7L338.6,179.7L332.6,178.3L326.6,176.6L320.9,174.4L315.3,172.0L309.8,169.2L304.6,166.1L299.7,162.6L294.9,158.9L290.5,154.9L286.4,150.6L282.6,146.1L279.1,141.3L276.0,136.3L273.3,131.2L270.9,125.9L269.0,120.4L267.5,114.8L266.4,109.2L265.8,103.4L265.5,97.7L265.8,91.9L266.5,86.2L267.6,80.5L269.2,74.8L271.2,69.3L273.6,63.9L276.5,58.7L279.8,53.7L283.4,48.9L287.5,44.3L291.9,40.0L296.7,36.0L301.8,32.3L307.1,29.0L312.8,26.0L318.6,23.3L324.7,21.1L330.9,19.3L337.3,17.8L343.8,16.8L350.4,16.2L357.0,16.1 M357.0,181.6L350.9,181.8L344.8,181.7L338.7,181.1L332.7,180.2L326.8,178.9L321.0,177.3L315.4,175.3L310.0,172.9L304.8,170.1L299.8,167.1L295.0,163.7L290.6,160.0L286.4,156.0L282.6,151.7L279.1,147.1L275.9,142.4L273.2,137.4L270.8,132.1L268.8,126.8L267.3,121.2L266.2,115.6L265.5,109.8L265.3,104.0L265.6,98.2L266.3,92.3L267.4,86.5L269.0,80.7L271.0,75.0L273.5,69.4L276.4,63.9L279.7,58.6L283.4,53.5L287.5,48.7L292.0,44.1L296.8,39.7L301.9,35.7L307.3,32.0L312.9,28.6L318.8,25.6L324.9,23.0L331.1,20.8L337.5,19.0L343.9,17.6L350.4,16.6L357.0,16.1 M357.0,181.6L351.1,182.3L345.2,182.6L339.3,182.6L333.5,182.1L327.7,181.3L322.1,180.1L316.7,178.5L311.4,176.5L306.3,174.2L301.4,171.5L296.7,168.4L292.3,165.0L288.3,161.3L284.5,157.3L281.0,152.9L278.0,148.4L275.2,143.5L272.9,138.4L271.0,133.1L269.5,127.7L268.4,122.0L267.7,116.3L267.5,110.4L267.8,104.5L268.4,98.5L269.6,92.5L271.1,86.5L273.1,80.6L275.6,74.8L278.4,69.1L281.7,63.6L285.3,58.2L289.4,53.0L293.7,48.1L298.4,43.4L303.4,39.1L308.7,35.0L314.2,31.3L319.9,27.9L325.8,24.9L331.9,22.3L338.1,20.1L344.4,18.4L350.7,17.0L357.0,16.1 M357.0,181.6L351.4,182.8L345.9,183.6L340.3,183.9L334.9,183.9L329.5,183.5L324.2,182.8L319.0,181.6L314.0,180.0L309.1,178.0L304.5,175.7L300.0,173.0L295.9,169.9L292.0,166.5L288.4,162.7L285.1,158.6L282.1,154.2L279.5,149.5L277.3,144.5L275.5,139.3L274.0,133.9L273.0,128.3L272.4,122.5L272.2,116.6L272.4,110.6L273.0,104.5L274.1,98.4L275.6,92.2L277.5,86.1L279.9,80.1L282.6,74.1L285.7,68.3L289.2,62.7L293.0,57.2L297.2,52.0L301.7,47.0L306.4,42.3L311.4,37.9L316.6,33.8L322.1,30.1L327.7,26.7L333.4,23.8L339.2,21.2L345.1,19.1L351.1,17.4L357.0,16.1 M357.0,181.6L351.9,183.2L346.9,184.4L341.8,185.2L336.8,185.6L331.9,185.6L327.1,185.3L322.3,184.5L317.7,183.3L313.3,181.7L309.0,179.7L304.9,177.3L301.1,174.5L297.5,171.3L294.2,167.8L291.1,163.9L288.4,159.6L286.0,155.1L284.0,150.2L282.2,145.1L280.9,139.8L279.9,134.2L279.4,128.4L279.2,122.4L279.4,116.3L280.0,110.1L281.0,103.9L282.4,97.6L284.2,91.3L286.3,85.1L288.8,78.9L291.7,72.8L294.9,66.9L298.5,61.2L302.3,55.6L306.4,50.3L310.8,45.3L315.4,40.6L320.2,36.2L325.2,32.1L330.3,28.4L335.5,25.1L340.8,22.2L346.2,19.8L351.6,17.7L357.0,16.1 M357.0,181.6L352.6,183.6L348.2,185.2L343.7,186.3L339.4,187.1L335.0,187.5L330.8,187.5L326.6,187.1L322.5,186.2L318.6,184.9L314.9,183.2L311.3,181.1L307.9,178.6L304.7,175.7L301.8,172.4L299.1,168.7L296.7,164.6L294.5,160.2L292.7,155.5L291.2,150.4L290.0,145.1L289.1,139.5L288.6,133.7L288.4,127.7L288.6,121.6L289.2,115.3L290.1,108.9L291.3,102.5L292.9,96.0L294.8,89.6L297.0,83.2L299.6,76.9L302.4,70.7L305.6,64.7L309.0,58.9L312.6,53.3L316.4,48.0L320.5,43.0L324.7,38.3L329.1,34.0L333.6,30.0L338.2,26.4L342.8,23.2L347.6,20.4L352.3,18.0L357.0,16.1 M357.0,181.6L353.3,183.9L349.7,185.8L346.0,187.3L342.4,188.4L338.7,189.1L335.2,189.4L331.7,189.3L328.3,188.7L325.1,187.7L321.9,186.3L318.9,184.5L316.1,182.2L313.4,179.5L310.9,176.3L308.7,172.8L306.7,168.9L304.9,164.6L303.3,160.0L302.1,155.0L301.0,149.7L300.3,144.1L299.9,138.3L299.8,132.3L299.9,126.1L300.4,119.7L301.1,113.2L302.2,106.7L303.5,100.1L305.1,93.5L307.0,86.9L309.1,80.4L311.5,74.0L314.1,67.8L317.0,61.8L320.0,55.9L323.2,50.4L326.6,45.1L330.2,40.1L333.8,35.5L337.6,31.3L341.4,27.4L345.3,23.9L349.2,20.9L353.1,18.3L357.0,16.1 M357.0,181.6L354.2,184.2L351.4,186.3L348.6,188.1L345.7,189.5L343.0,190.4L340.2,191.0L337.6,191.1L334.9,190.8L332.4,190.0L330.0,188.8L327.7,187.1L325.5,185.1L323.4,182.5L321.5,179.5L319.7,176.2L318.2,172.4L316.8,168.2L315.6,163.6L314.6,158.7L313.8,153.5L313.3,147.9L312.9,142.1L312.8,136.0L312.9,129.8L313.3,123.3L313.9,116.8L314.7,110.1L315.7,103.4L316.9,96.6L318.4,89.9L320.1,83.2L321.9,76.7L324.0,70.3L326.2,64.0L328.5,58.0L331.0,52.3L333.6,46.8L336.3,41.6L339.2,36.8L342.0,32.3L345.0,28.2L348.0,24.6L351.0,21.3L354.0,18.5L357.0,16.1 M357.0,181.6L355.1,184.3L353.2,186.7L351.3,188.7L349.4,190.2L347.6,191.4L345.7,192.1L343.9,192.4L342.2,192.3L340.5,191.7L338.8,190.6L337.3,189.1L335.8,187.2L334.4,184.8L333.1,181.9L331.9,178.6L330.8,174.9L329.9,170.8L329.1,166.3L328.4,161.4L327.9,156.2L327.5,150.7L327.3,144.9L327.2,138.8L327.3,132.5L327.5,126.0L327.9,119.3L328.5,112.6L329.2,105.8L330.0,98.9L331.0,92.1L332.1,85.3L333.4,78.6L334.8,72.1L336.2,65.7L337.8,59.6L339.5,53.6L341.3,48.0L343.1,42.7L345.0,37.7L347.0,33.1L348.9,28.8L350.9,25.0L353.0,21.6L355.0,18.6L357.0,16.1 M357.0,181.6L356.1,184.5L355.2,186.9L354.3,189.0L353.3,190.7L352.4,191.9L351.6,192.8L350.7,193.2L349.8,193.1L349.0,192.7L348.2,191.7L347.4,190.3L346.7,188.4L346.0,186.1L345.4,183.3L344.8,180.1L344.3,176.4L343.9,172.4L343.5,167.9L343.2,163.1L342.9,157.9L342.7,152.3L342.6,146.5L342.6,140.4L342.6,134.1L342.7,127.6L342.9,120.9L343.2,114.1L343.5,107.2L343.9,100.3L344.4,93.4L345.0,86.6L345.6,79.8L346.2,73.2L347.0,66.7L347.7,60.5L348.5,54.5L349.4,48.7L350.3,43.3L351.2,38.2L352.1,33.5L353.1,29.2L354.1,25.3L355.0,21.8L356.0,18.7L357.0,16.1" fill="none" stroke="#7a7a7a" stroke-opacity="0.55" stroke-width="0.4"/>
<text x="263.5" y="9.7" font-size="18.6" font-weight="bold" fill="#000" stroke="#000" stroke-width="0.45">c</text>
<ellipse cx="357" cy="182.8" rx="5.5" ry="1.9" fill="#777" opacity="0.35"/><ellipse cx="357" cy="182.8" rx="3" ry="1.1" fill="#666" opacity="0.35"/>
<path d="M357.0,16.1L354.8,16.6L352.7,17.2L350.5,17.8L348.4,18.5L346.2,19.2L344.1,20.0L341.9,20.9L339.8,21.8L337.6,22.8L335.5,23.9L333.4,25.0L331.3,26.2L329.3,27.4L327.2,28.7L325.2,30.0L323.1,31.4L321.2,32.8L319.2,34.3L317.2,35.9L315.3,37.5L313.4,39.1L311.6,40.8L309.8,42.5L308.0,44.3L306.2,46.1L304.5,48.0L302.8,49.9L301.2,51.8L299.6,53.8L298.0,55.8L296.5,57.9L295.0,60.0L293.6,62.1L292.2,64.2L290.9,66.4L289.6,68.6L288.4,70.8L287.2,73.0L286.1,75.3L285.0,77.6L284.0,79.9L283.0,82.2L282.1,84.5L281.3,86.8L280.5,89.2L279.7,91.5L279.0,93.9L278.4,96.2L277.8,98.6L277.3,100.9L276.9,103.3L276.5,105.6L276.1,108.0L275.9,110.3L275.7,112.6L275.5,114.9L275.4,117.2L275.4,119.5L275.4,121.8L275.5,124.0" fill="none" stroke="#111" stroke-width="1.45"/>
<circle cx="357.1" cy="15.3" r="3.9" fill="#000"/>
<circle cx="275.5" cy="124.0" r="4" fill="#000"/>
<path d="M288.6,112V136.5" stroke="#111" stroke-width="1.3"/>
<path d="M288.6,108.4l-2.6,5.6l2.6,-1.1l2.6,1.1z M288.6,140l-2.6,-5.6l2.6,1.1l2.6,-1.1z" fill="#111"/>
<circle cx="357.4" cy="41.6" r="15.4" fill="none" stroke="#111" stroke-width="1.4"/>
<path d="M368.8,51.6L374.2,48.1L369.3,45.4Z" fill="#111"/>
<path d="M384.9,96.9L387.6,135.3 M393.6,94.9L397.7,133.3 M401.2,93.4L406.0,131.2 M408.1,91.8L413.9,129.1 M384.9,96.9L408.1,91.8 M385.7,106.7L409.8,101.2 M386.2,116.7L411.3,111.0 M386.9,125.9L412.7,120.4 M387.6,135.3L413.9,129.1 M356.6,102.1L408.1,91.8 M356.6,102.1L386.2,116.7 M356.6,102.1L387.6,135.3" fill="none" stroke="#222" stroke-width="0.9" stroke-linejoin="round"/>
<circle cx="400.8" cy="97.3" r="0.7" fill="#e22"/>
<path d="M400.3,128.0h3.2" stroke="#1a1ae0" stroke-width="1.2"/>
<g clip-path="url(#inset)">
<path d="M305.9,207L310.5,265L315.3,320L323.9,458 M358.9,207L354.3,270L349.5,320L333.2,458 M301,248.1Q355,248.6 406.6,253.2 M301,306.2Q360,301.5 411.7,293.7 M301,300.9Q355,301.5 410,307.7 M301.6,353.4Q360,353.5 416.6,361.7 M301.6,406.4Q360,402 419.6,392.1 M301.6,404.4Q345,400.6 419.6,415.4 M416.6,393L398.7,458 M301.6,455.6L333.7,458.5 M634.6,76.8L685,90.9 M660.6,63.5Q657,100 649.6,142 M650,144Q668,138.5 685,134.3 M650.5,138.8L685,149.4 M617.7,441.6L606.4,459 M630.2,436.3L660,459 M681.5,419.4L680.8,459 M685,454.8L680.8,459 M465.6,63.5L464.2,79.2 M471.1,63.5L474.1,78 M667.1,239L685,231 M677.3,331.3L685,335" fill="none" stroke="#c4c4c4" stroke-width="0.5"/>
<path d="M301.4,217.4L409.3,275 M301.4,292.6L407.7,458.5" fill="none" stroke="#7a7a7a" stroke-width="1.55"/>
<path d="M630.9,62.0L634.9,77.5L638.7,93.1L642.3,108.6L645.8,124.2L649.1,139.7L652.3,155.3L655.3,170.8L658.1,186.4L660.8,201.9L663.4,217.5L665.7,233.0L668.0,248.6L670.0,264.1L671.9,279.7L673.7,295.2L675.3,310.8L676.7,326.3L677.9,341.9L679.1,357.4L680.0,373.0L680.8,388.5L681.4,404.1L681.9,419.6 M553.8,62.0L557.6,78.6L561.2,95.3L564.6,111.9L567.9,128.6L571.1,145.2L574.1,161.9L577.0,178.5L579.8,195.1L582.4,211.8L584.8,228.4L587.1,245.1L589.3,261.7L591.3,278.4L593.2,295.0L595.0,311.7L596.6,328.3L598.0,344.9L599.3,361.6L600.5,378.2L601.5,394.9L602.4,411.5L603.2,428.2L603.8,444.8 M474.2,78.3L477.2,94.9L480.1,111.5L482.9,128.1L485.7,144.7L488.3,161.3L490.8,177.9L493.2,194.5L495.4,211.1L497.6,227.7L499.7,244.3L501.7,260.9L503.5,277.4L505.3,294.0L506.9,310.6L508.5,327.2L509.9,343.8L511.2,360.4L512.4,377.0L513.5,393.6L514.5,410.2L515.4,426.8L516.2,443.4L516.9,460.0 M401.8,205.0L403.1,216.1L404.4,227.2L405.7,238.3L406.9,249.3L408.1,260.4L409.2,271.5L410.3,282.6L411.4,293.7L412.4,304.8L413.4,315.9L414.4,327.0L415.4,338.0L416.3,349.1L417.1,360.2L418.0,371.3L418.8,382.4L419.5,393.5L420.3,404.6L420.9,415.7L421.6,426.7L422.2,437.8L422.8,448.9L423.4,460.0 M456.0,81.2L460.5,80.4L464.9,79.6L469.4,78.7L473.8,77.9L478.3,77.1L482.8,76.3L487.2,75.5L491.7,74.8L496.1,74.0L500.6,73.2L505.1,72.5L509.5,71.7L514.0,71.0L518.5,70.2L522.9,69.5L527.4,68.8L531.8,68.1L536.3,67.4L540.8,66.7L545.2,66.0L549.7,65.4L554.1,64.7L558.6,64.1 M456.0,184.7L464.4,183.4L472.9,182.1L481.3,180.7L489.8,179.3L498.2,177.8L506.7,176.3L515.1,174.7L523.5,173.1L532.0,171.5L540.4,169.8L548.9,168.1L557.3,166.3L565.8,164.5L574.2,162.6L582.7,160.7L591.1,158.8L599.5,156.8L608.0,154.8L616.4,152.7L624.9,150.6L633.3,148.4L641.8,146.2L650.2,143.9 M411.6,293.4L423.6,291.7L435.5,289.9L447.5,288.1L459.5,286.1L471.5,284.1L483.4,282.0L495.4,279.8L507.4,277.5L519.4,275.1L531.3,272.7L543.3,270.2L555.3,267.6L567.3,264.9L579.2,262.1L591.2,259.2L603.2,256.2L615.2,253.2L627.1,250.1L639.1,246.9L651.1,243.6L663.1,240.2L675.0,236.8L687.0,233.2 M419.4,392.2L431.0,390.5L442.7,388.6L454.3,386.7L465.9,384.7L477.6,382.5L489.2,380.3L500.8,378.0L512.5,375.6L524.1,373.1L535.7,370.5L547.4,367.8L559.0,365.0L570.7,362.1L582.3,359.2L593.9,356.1L605.6,352.9L617.2,349.7L628.8,346.3L640.5,342.9L652.1,339.4L663.7,335.8L675.4,332.0L687.0,328.2 M546.0,458.7L552.1,457.4L558.3,456.0L564.4,454.7L570.5,453.2L576.7,451.8L582.8,450.2L588.9,448.7L595.0,447.1L601.2,445.4L607.3,443.7L613.4,442.0L619.6,440.2L625.7,438.4L631.8,436.5L638.0,434.6L644.1,432.6L650.2,430.6L656.3,428.5L662.5,426.4L668.6,424.3L674.7,422.1L680.9,419.8L687.0,417.6" fill="none" stroke="#0a0a0a" stroke-width="0.8"/>
</g>
<path d="M564.6,402.0L564.7,394.5L564.7,387.0L564.8,379.4L564.7,371.9L564.7,364.4L564.6,356.9L564.5,349.3L564.3,341.8L564.2,334.3L564.0,326.8L563.7,319.3L563.5,311.7L563.2,304.2L562.9,296.7L562.6,289.2L562.3,281.7L561.9,274.2L561.5,266.6L561.2,259.1L560.7,251.6L560.3,244.1L559.9,236.6L559.4,229.1L559.0,221.6L558.5,214.1L558.0,206.6L557.6,199.1L557.1,191.6L556.6,184.1L556.1,176.5L555.6,169.0L555.1,161.5L554.5,154.0L554.0,146.5L553.5,139.0L553.0,131.5L552.5,124.0L552.0,116.5L551.5,109.0" fill="none" stroke="#111" stroke-width="1.15" stroke-dasharray="4.7 3.3"/>
<path d="M550.6,101.8L553.4,108.6L551.3,107.5L548.7,108.9Z" fill="#111"/>
<text transform="translate(566.6,219.8) rotate(87) scale(1.24,1)" font-size="11.5" fill="#222">50 fs</text>
<circle cx="549.1" cy="97.2" r="3.3" fill="#f00"/>
<circle cx="564.9" cy="406.1" r="3.3" fill="#000"/>
<circle cx="549.7" cy="409.4" r="3.0" fill="#00e"/>
<circle cx="579.8" cy="402.3" r="3.0" fill="#00e"/>
<path d="M556.8,448.6L577.8,428.9" stroke="#111" stroke-width="1.1" fill="none"/><path d="M554.2,451.1L559.5,449.1L556.5,445.9Z M580.4,426.4L578.1,431.6L575.1,428.4Z" fill="#111"/>
<path d="M615.8,417.0L652.4,379.8" stroke="#3561fa" stroke-width="1.2" fill="none"/><path d="M613.0,419.8L618.6,417.4L615.3,414.2Z M655.2,377.0L652.9,382.6L649.6,379.4Z" fill="#3561fa"/>
<g clip-path="url(#inset)"><path d="M447.6,459.7L489.2,419.1" stroke="#3561fa" stroke-width="1.2" fill="none"/><path d="M444.8,462.4L450.4,460.1L447.2,456.8Z M492.0,416.4L489.6,422.0L486.4,418.7Z" fill="#3561fa"/></g>
<path d="M669.9,378.5Q663.5,365.5 651.5,362.9" fill="none" stroke="#3561fa" stroke-width="1.25"/>
<path d="M648.6,361.9l5.8,-1.0l-1.5,4.6z" fill="#3561fa"/>
<path d="M488.6,402Q501.5,405.5 506.6,418.4" fill="none" stroke="#3561fa" stroke-width="1.25"/>
<path d="M507.9,421.8l-4.4,-4.2l4.7,-1.4z" fill="#3561fa"/>
<text transform="translate(442.6,404.6) rotate(-10.2) scale(1.03,1)" font-size="11.3" fill="#3561fa">Δθ<tspan font-size="7.8" dy="3.1">c</tspan><tspan dy="-3.1"> ≈ +1°</tspan></text>
<text transform="translate(619.6,364.8) rotate(-16.3) scale(1.04,1)" font-size="11.3" fill="#3561fa">Δθ<tspan font-size="7.8" dy="3.1">c</tspan><tspan dy="-3.1"> ≈ −1°</tspan></text>
<text transform="translate(549.7,35.8) scale(1.065,1)" font-size="11.3" fill="#fb1616">|Δ<tspan font-style="italic">θ</tspan><tspan font-size="7.2" dy="3.2">c</tspan><tspan dy="-3.2">| ≈ 1.5°</tspan></text>
<path d="M612.8,34.9Q626.7,38.8 630.6,50" fill="none" stroke="#fb1616" stroke-width="1.3"/>
<path d="M632.2,54.8L628.3,50.5L633.5,49.3Z" fill="#fb1616"/>
<ellipse cx="592.8" cy="70.9" rx="31.5" ry="4.9" transform="rotate(-43.2 592.8 70.9)" fill="none" stroke="#fb1616" stroke-width="1.3"/>
<path d="M596.7,73.7L598.4,68.4L602.1,71.8Z" fill="#fb1616"/>
</svg>
</body></html>
